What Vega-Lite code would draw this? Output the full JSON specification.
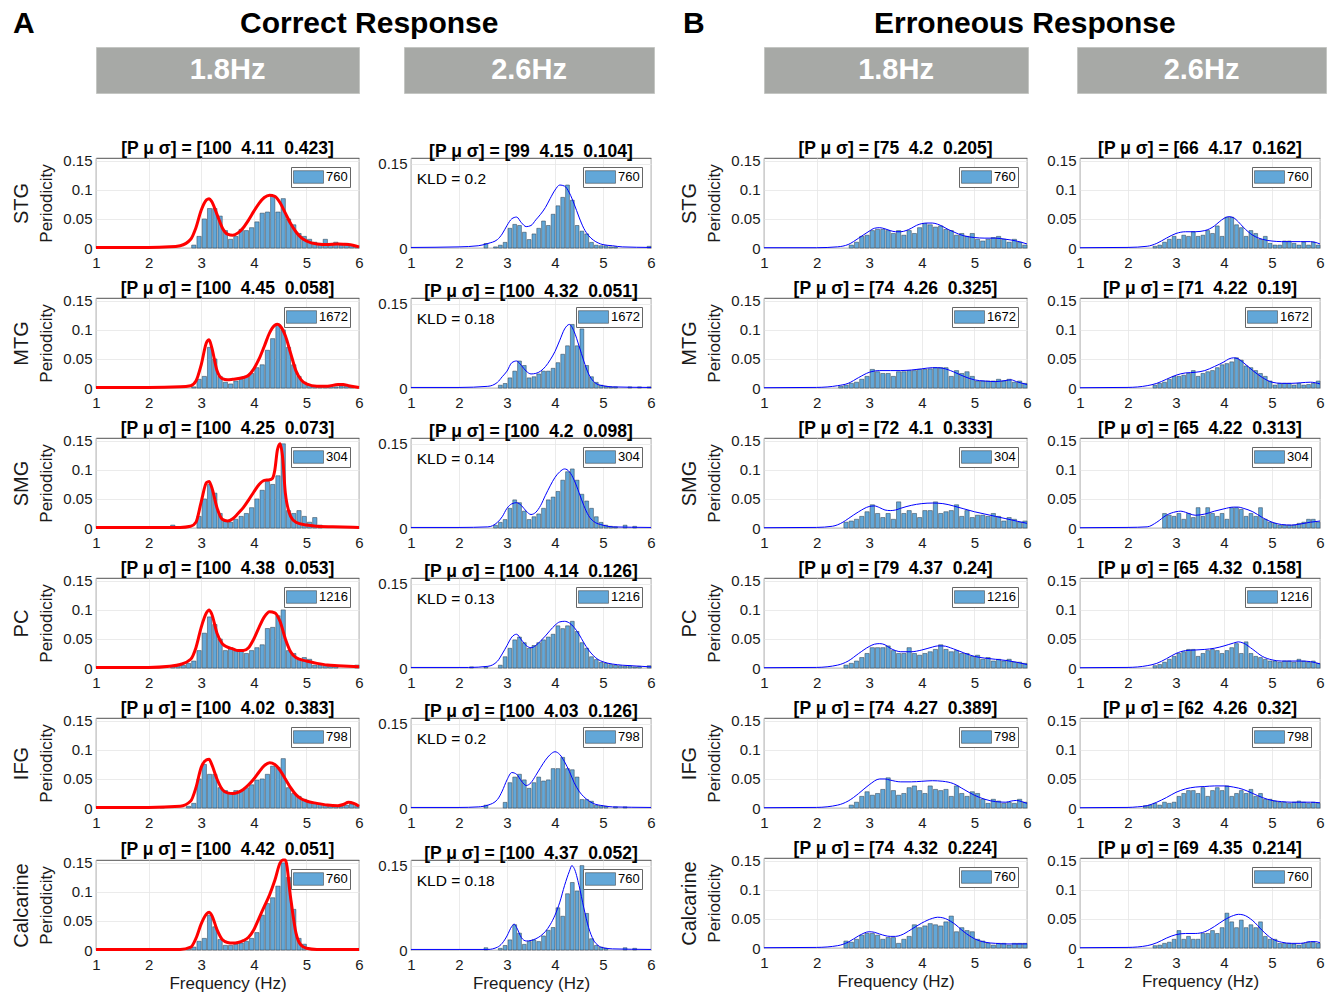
{
"$schema":"https://vega.github.io/schema/vega-lite/v6.json",
"padding":{"left":10,"top":8,"right":5,"bottom":2},
"background":"white",
"datasets":{
"bars":[
{"p":"a1","x":2.8,"y":0.005},{"p":"a1","x":2.9,"y":0.02},{"p":"a1","x":3,"y":0.05},{"p":"a1","x":3.1,"y":0.068},{"p":"a1","x":3.2,"y":0.068},{"p":"a1","x":3.3,"y":0.055},{"p":"a1","x":3.4,"y":0.03},{"p":"a1","x":3.5,"y":0.015},{"p":"a1","x":3.6,"y":0.02},{"p":"a1","x":3.7,"y":0.032},{"p":"a1","x":3.8,"y":0.03},{"p":"a1","x":3.9,"y":0.035},{"p":"a1","x":4,"y":0.045},{"p":"a1","x":4.1,"y":0.06},{"p":"a1","x":4.2,"y":0.062},{"p":"a1","x":4.3,"y":0.09},{"p":"a1","x":4.4,"y":0.062},{"p":"a1","x":4.5,"y":0.085},{"p":"a1","x":4.6,"y":0.05},{"p":"a1","x":4.7,"y":0.04},{"p":"a1","x":4.8,"y":0.025},{"p":"a1","x":4.9,"y":0.02},{"p":"a1","x":5,"y":0.015},{"p":"a1","x":5.1,"y":0.01},{"p":"a1","x":5.2,"y":0.008},{"p":"a1","x":5.3,"y":0.015},{"p":"a1","x":5.4,"y":0.008},{"p":"a1","x":5.5,"y":0.01},{"p":"a1","x":5.6,"y":0.005},{"p":"a1","x":5.7,"y":0.008},{"p":"a1","x":5.8,"y":0.005},{"p":"a1","x":5.9,"y":0.003},
{"p":"a2","x":2.8,"y":0.002},{"p":"a2","x":2.9,"y":0.015},{"p":"a2","x":3,"y":0.02},{"p":"a2","x":3.1,"y":0.07},{"p":"a2","x":3.2,"y":0.05},{"p":"a2","x":3.3,"y":0.02},{"p":"a2","x":3.4,"y":0.01},{"p":"a2","x":3.5,"y":0.007},{"p":"a2","x":3.6,"y":0.012},{"p":"a2","x":3.7,"y":0.015},{"p":"a2","x":3.8,"y":0.02},{"p":"a2","x":3.9,"y":0.025},{"p":"a2","x":4,"y":0.035},{"p":"a2","x":4.1,"y":0.04},{"p":"a2","x":4.2,"y":0.065},{"p":"a2","x":4.3,"y":0.085},{"p":"a2","x":4.4,"y":0.11},{"p":"a2","x":4.5,"y":0.1},{"p":"a2","x":4.6,"y":0.07},{"p":"a2","x":4.7,"y":0.04},{"p":"a2","x":4.8,"y":0.02},{"p":"a2","x":4.9,"y":0.01},{"p":"a2","x":5,"y":0.005},{"p":"a2","x":5.1,"y":0.004},{"p":"a2","x":5.2,"y":0.003},{"p":"a2","x":5.3,"y":0.003},{"p":"a2","x":5.4,"y":0.004},{"p":"a2","x":5.5,"y":0.002},{"p":"a2","x":5.6,"y":0.003},{"p":"a2","x":5.7,"y":0.003},{"p":"a2","x":5.8,"y":0.002},
{"p":"a3","x":2.4,"y":0.005},{"p":"a3","x":2.9,"y":0.02},{"p":"a3","x":3,"y":0.05},{"p":"a3","x":3.1,"y":0.075},{"p":"a3","x":3.2,"y":0.06},{"p":"a3","x":3.3,"y":0.025},{"p":"a3","x":3.4,"y":0.012},{"p":"a3","x":3.5,"y":0.01},{"p":"a3","x":3.6,"y":0.015},{"p":"a3","x":3.7,"y":0.02},{"p":"a3","x":3.8,"y":0.025},{"p":"a3","x":3.9,"y":0.035},{"p":"a3","x":4,"y":0.05},{"p":"a3","x":4.1,"y":0.065},{"p":"a3","x":4.2,"y":0.08},{"p":"a3","x":4.3,"y":0.075},{"p":"a3","x":4.4,"y":0.09},{"p":"a3","x":4.5,"y":0.145},{"p":"a3","x":4.6,"y":0.03},{"p":"a3","x":4.7,"y":0.025},{"p":"a3","x":4.8,"y":0.03},{"p":"a3","x":4.9,"y":0.02},{"p":"a3","x":5,"y":0.01},{"p":"a3","x":5.1,"y":0.018},{"p":"a3","x":5.2,"y":0.005},
{"p":"a4","x":2.4,"y":0.003},{"p":"a4","x":2.5,"y":0.004},{"p":"a4","x":2.6,"y":0.005},{"p":"a4","x":2.7,"y":0.008},{"p":"a4","x":2.8,"y":0.012},{"p":"a4","x":2.9,"y":0.03},{"p":"a4","x":3,"y":0.06},{"p":"a4","x":3.1,"y":0.088},{"p":"a4","x":3.2,"y":0.075},{"p":"a4","x":3.3,"y":0.05},{"p":"a4","x":3.4,"y":0.03},{"p":"a4","x":3.5,"y":0.035},{"p":"a4","x":3.6,"y":0.03},{"p":"a4","x":3.7,"y":0.03},{"p":"a4","x":3.8,"y":0.025},{"p":"a4","x":3.9,"y":0.03},{"p":"a4","x":4,"y":0.035},{"p":"a4","x":4.1,"y":0.04},{"p":"a4","x":4.2,"y":0.068},{"p":"a4","x":4.3,"y":0.07},{"p":"a4","x":4.4,"y":0.09},{"p":"a4","x":4.5,"y":0.1},{"p":"a4","x":4.6,"y":0.03},{"p":"a4","x":4.7,"y":0.025},{"p":"a4","x":4.8,"y":0.015},{"p":"a4","x":4.9,"y":0.018},{"p":"a4","x":5,"y":0.015},{"p":"a4","x":5.1,"y":0.005},{"p":"a4","x":5.2,"y":0.005},{"p":"a4","x":5.3,"y":0.004},{"p":"a4","x":5.4,"y":0.003},{"p":"a4","x":5.5,"y":0.004},{"p":"a4","x":5.9,"y":0.005},
{"p":"a5","x":2.2,"y":0.002},{"p":"a5","x":2.7,"y":0.003},{"p":"a5","x":2.8,"y":0.008},{"p":"a5","x":2.9,"y":0.05},{"p":"a5","x":3,"y":0.075},{"p":"a5","x":3.1,"y":0.058},{"p":"a5","x":3.2,"y":0.058},{"p":"a5","x":3.3,"y":0.035},{"p":"a5","x":3.4,"y":0.03},{"p":"a5","x":3.5,"y":0.025},{"p":"a5","x":3.6,"y":0.03},{"p":"a5","x":3.7,"y":0.03},{"p":"a5","x":3.8,"y":0.035},{"p":"a5","x":3.9,"y":0.04},{"p":"a5","x":4,"y":0.048},{"p":"a5","x":4.1,"y":0.05},{"p":"a5","x":4.2,"y":0.058},{"p":"a5","x":4.3,"y":0.072},{"p":"a5","x":4.4,"y":0.07},{"p":"a5","x":4.5,"y":0.085},{"p":"a5","x":4.6,"y":0.035},{"p":"a5","x":4.7,"y":0.025},{"p":"a5","x":4.8,"y":0.02},{"p":"a5","x":4.9,"y":0.015},{"p":"a5","x":5,"y":0.01},{"p":"a5","x":5.1,"y":0.008},{"p":"a5","x":5.2,"y":0.007},{"p":"a5","x":5.3,"y":0.005},{"p":"a5","x":5.4,"y":0.005},{"p":"a5","x":5.5,"y":0.004},{"p":"a5","x":5.6,"y":0.003},{"p":"a5","x":5.7,"y":0.005},{"p":"a5","x":5.8,"y":0.007},{"p":"a5","x":5.9,"y":0.004},
{"p":"a6","x":2.7,"y":0.003},{"p":"a6","x":2.8,"y":0.005},{"p":"a6","x":2.9,"y":0.015},{"p":"a6","x":3,"y":0.02},{"p":"a6","x":3.1,"y":0.06},{"p":"a6","x":3.2,"y":0.04},{"p":"a6","x":3.3,"y":0.018},{"p":"a6","x":3.4,"y":0.008},{"p":"a6","x":3.5,"y":0.008},{"p":"a6","x":3.6,"y":0.01},{"p":"a6","x":3.7,"y":0.012},{"p":"a6","x":3.8,"y":0.015},{"p":"a6","x":3.9,"y":0.02},{"p":"a6","x":4,"y":0.03},{"p":"a6","x":4.1,"y":0.06},{"p":"a6","x":4.2,"y":0.08},{"p":"a6","x":4.3,"y":0.09},{"p":"a6","x":4.4,"y":0.11},{"p":"a6","x":4.5,"y":0.15},{"p":"a6","x":4.6,"y":0.125},{"p":"a6","x":4.7,"y":0.07},{"p":"a6","x":4.8,"y":0.02},{"p":"a6","x":4.9,"y":0.01},
{"p":"b1","x":2.5,"y":0.008},{"p":"b1","x":2.7,"y":0.002},{"p":"b1","x":2.8,"y":0.005},{"p":"b1","x":2.9,"y":0.01},{"p":"b1","x":3,"y":0.035},{"p":"b1","x":3.1,"y":0.042},{"p":"b1","x":3.2,"y":0.04},{"p":"b1","x":3.3,"y":0.028},{"p":"b1","x":3.4,"y":0.015},{"p":"b1","x":3.5,"y":0.025},{"p":"b1","x":3.6,"y":0.035},{"p":"b1","x":3.7,"y":0.048},{"p":"b1","x":3.8,"y":0.04},{"p":"b1","x":3.9,"y":0.06},{"p":"b1","x":4,"y":0.075},{"p":"b1","x":4.1,"y":0.09},{"p":"b1","x":4.2,"y":0.112},{"p":"b1","x":4.3,"y":0.085},{"p":"b1","x":4.4,"y":0.04},{"p":"b1","x":4.5,"y":0.03},{"p":"b1","x":4.6,"y":0.025},{"p":"b1","x":4.7,"y":0.01},{"p":"b1","x":4.8,"y":0.005},{"p":"b1","x":4.9,"y":0.004},{"p":"b1","x":5,"y":0.004},{"p":"b1","x":5.1,"y":0.002},{"p":"b1","x":5.2,"y":0.002},{"p":"b1","x":5.9,"y":0.003},
{"p":"b2","x":2.8,"y":0.005},{"p":"b2","x":2.9,"y":0.008},{"p":"b2","x":3,"y":0.018},{"p":"b2","x":3.1,"y":0.03},{"p":"b2","x":3.2,"y":0.048},{"p":"b2","x":3.3,"y":0.04},{"p":"b2","x":3.4,"y":0.018},{"p":"b2","x":3.5,"y":0.02},{"p":"b2","x":3.6,"y":0.025},{"p":"b2","x":3.7,"y":0.03},{"p":"b2","x":3.8,"y":0.03},{"p":"b2","x":3.9,"y":0.035},{"p":"b2","x":4,"y":0.045},{"p":"b2","x":4.1,"y":0.06},{"p":"b2","x":4.2,"y":0.075},{"p":"b2","x":4.3,"y":0.113},{"p":"b2","x":4.4,"y":0.075},{"p":"b2","x":4.5,"y":0.105},{"p":"b2","x":4.6,"y":0.04},{"p":"b2","x":4.7,"y":0.02},{"p":"b2","x":4.8,"y":0.01},{"p":"b2","x":4.9,"y":0.005},{"p":"b2","x":5,"y":0.003},{"p":"b2","x":5.1,"y":0.002},{"p":"b2","x":5.2,"y":0.002},{"p":"b2","x":5.5,"y":0.002},{"p":"b2","x":5.7,"y":0.002},{"p":"b2","x":5.9,"y":0.002},
{"p":"b3","x":2.7,"y":0.005},{"p":"b3","x":2.8,"y":0.01},{"p":"b3","x":2.9,"y":0.015},{"p":"b3","x":3,"y":0.035},{"p":"b3","x":3.1,"y":0.05},{"p":"b3","x":3.2,"y":0.045},{"p":"b3","x":3.3,"y":0.03},{"p":"b3","x":3.4,"y":0.015},{"p":"b3","x":3.5,"y":0.02},{"p":"b3","x":3.6,"y":0.025},{"p":"b3","x":3.7,"y":0.035},{"p":"b3","x":3.8,"y":0.05},{"p":"b3","x":3.9,"y":0.055},{"p":"b3","x":4,"y":0.065},{"p":"b3","x":4.1,"y":0.085},{"p":"b3","x":4.2,"y":0.1},{"p":"b3","x":4.3,"y":0.105},{"p":"b3","x":4.4,"y":0.085},{"p":"b3","x":4.5,"y":0.06},{"p":"b3","x":4.6,"y":0.048},{"p":"b3","x":4.7,"y":0.035},{"p":"b3","x":4.8,"y":0.02},{"p":"b3","x":4.9,"y":0.01},{"p":"b3","x":5,"y":0.005},{"p":"b3","x":5.1,"y":0.003},{"p":"b3","x":5.2,"y":0.002},{"p":"b3","x":5.4,"y":0.005},{"p":"b3","x":5.6,"y":0.003},
{"p":"b4","x":2.2,"y":0.002},{"p":"b4","x":2.5,"y":0.002},{"p":"b4","x":2.8,"y":0.005},{"p":"b4","x":2.9,"y":0.02},{"p":"b4","x":3,"y":0.035},{"p":"b4","x":3.1,"y":0.05},{"p":"b4","x":3.2,"y":0.055},{"p":"b4","x":3.3,"y":0.045},{"p":"b4","x":3.4,"y":0.035},{"p":"b4","x":3.5,"y":0.04},{"p":"b4","x":3.6,"y":0.045},{"p":"b4","x":3.7,"y":0.05},{"p":"b4","x":3.8,"y":0.055},{"p":"b4","x":3.9,"y":0.06},{"p":"b4","x":4,"y":0.075},{"p":"b4","x":4.1,"y":0.07},{"p":"b4","x":4.2,"y":0.075},{"p":"b4","x":4.3,"y":0.083},{"p":"b4","x":4.4,"y":0.065},{"p":"b4","x":4.5,"y":0.045},{"p":"b4","x":4.6,"y":0.035},{"p":"b4","x":4.7,"y":0.02},{"p":"b4","x":4.8,"y":0.015},{"p":"b4","x":4.9,"y":0.01},{"p":"b4","x":5,"y":0.008},{"p":"b4","x":5.1,"y":0.006},{"p":"b4","x":5.2,"y":0.005},{"p":"b4","x":5.3,"y":0.004},{"p":"b4","x":5.4,"y":0.003},{"p":"b4","x":5.5,"y":0.004},{"p":"b4","x":5.6,"y":0.002},{"p":"b4","x":5.7,"y":0.003},{"p":"b4","x":5.9,"y":0.004},
{"p":"b5","x":2.5,"y":0.005},{"p":"b5","x":2.9,"y":0.01},{"p":"b5","x":3,"y":0.045},{"p":"b5","x":3.1,"y":0.055},{"p":"b5","x":3.2,"y":0.06},{"p":"b5","x":3.3,"y":0.05},{"p":"b5","x":3.4,"y":0.035},{"p":"b5","x":3.5,"y":0.045},{"p":"b5","x":3.6,"y":0.055},{"p":"b5","x":3.7,"y":0.048},{"p":"b5","x":3.8,"y":0.05},{"p":"b5","x":3.9,"y":0.07},{"p":"b5","x":4,"y":0.07},{"p":"b5","x":4.1,"y":0.09},{"p":"b5","x":4.2,"y":0.07},{"p":"b5","x":4.3,"y":0.068},{"p":"b5","x":4.4,"y":0.055},{"p":"b5","x":4.5,"y":0.015},{"p":"b5","x":4.6,"y":0.015},{"p":"b5","x":4.7,"y":0.012},{"p":"b5","x":4.8,"y":0.005},{"p":"b5","x":4.9,"y":0.004},{"p":"b5","x":5,"y":0.003},{"p":"b5","x":5.2,"y":0.002},{"p":"b5","x":5.4,"y":0.002},
{"p":"b6","x":2.5,"y":0.004},{"p":"b6","x":2.8,"y":0.003},{"p":"b6","x":2.9,"y":0.008},{"p":"b6","x":3,"y":0.018},{"p":"b6","x":3.1,"y":0.045},{"p":"b6","x":3.2,"y":0.03},{"p":"b6","x":3.3,"y":0.01},{"p":"b6","x":3.4,"y":0.015},{"p":"b6","x":3.5,"y":0.018},{"p":"b6","x":3.6,"y":0.015},{"p":"b6","x":3.7,"y":0.025},{"p":"b6","x":3.8,"y":0.035},{"p":"b6","x":3.9,"y":0.04},{"p":"b6","x":4,"y":0.075},{"p":"b6","x":4.1,"y":0.06},{"p":"b6","x":4.2,"y":0.1},{"p":"b6","x":4.3,"y":0.12},{"p":"b6","x":4.4,"y":0.105},{"p":"b6","x":4.5,"y":0.15},{"p":"b6","x":4.6,"y":0.065},{"p":"b6","x":4.7,"y":0.02},{"p":"b6","x":4.8,"y":0.008},{"p":"b6","x":4.9,"y":0.005},{"p":"b6","x":5,"y":0.003},{"p":"b6","x":5.4,"y":0.004},{"p":"b6","x":5.6,"y":0.003},
{"p":"c1","x":2.6,"y":0.005},{"p":"c1","x":2.7,"y":0.01},{"p":"c1","x":2.8,"y":0.02},{"p":"c1","x":2.9,"y":0.022},{"p":"c1","x":3,"y":0.03},{"p":"c1","x":3.1,"y":0.032},{"p":"c1","x":3.2,"y":0.032},{"p":"c1","x":3.3,"y":0.03},{"p":"c1","x":3.4,"y":0.025},{"p":"c1","x":3.5,"y":0.03},{"p":"c1","x":3.6,"y":0.022},{"p":"c1","x":3.7,"y":0.03},{"p":"c1","x":3.8,"y":0.025},{"p":"c1","x":3.9,"y":0.035},{"p":"c1","x":4,"y":0.042},{"p":"c1","x":4.1,"y":0.04},{"p":"c1","x":4.2,"y":0.036},{"p":"c1","x":4.3,"y":0.038},{"p":"c1","x":4.4,"y":0.032},{"p":"c1","x":4.5,"y":0.03},{"p":"c1","x":4.6,"y":0.022},{"p":"c1","x":4.7,"y":0.025},{"p":"c1","x":4.8,"y":0.02},{"p":"c1","x":4.9,"y":0.025},{"p":"c1","x":5,"y":0.015},{"p":"c1","x":5.1,"y":0.012},{"p":"c1","x":5.2,"y":0.015},{"p":"c1","x":5.3,"y":0.018},{"p":"c1","x":5.4,"y":0.02},{"p":"c1","x":5.5,"y":0.015},{"p":"c1","x":5.6,"y":0.01},{"p":"c1","x":5.7,"y":0.015},{"p":"c1","x":5.8,"y":0.01},{"p":"c1","x":5.9,"y":0.005},
{"p":"c2","x":2.4,"y":0.003},{"p":"c2","x":2.5,"y":0.005},{"p":"c2","x":2.6,"y":0.008},{"p":"c2","x":2.7,"y":0.01},{"p":"c2","x":2.8,"y":0.015},{"p":"c2","x":2.9,"y":0.02},{"p":"c2","x":3,"y":0.032},{"p":"c2","x":3.1,"y":0.028},{"p":"c2","x":3.2,"y":0.025},{"p":"c2","x":3.3,"y":0.025},{"p":"c2","x":3.4,"y":0.02},{"p":"c2","x":3.5,"y":0.028},{"p":"c2","x":3.6,"y":0.028},{"p":"c2","x":3.7,"y":0.03},{"p":"c2","x":3.8,"y":0.03},{"p":"c2","x":3.9,"y":0.032},{"p":"c2","x":4,"y":0.032},{"p":"c2","x":4.1,"y":0.033},{"p":"c2","x":4.2,"y":0.035},{"p":"c2","x":4.3,"y":0.035},{"p":"c2","x":4.4,"y":0.035},{"p":"c2","x":4.5,"y":0.02},{"p":"c2","x":4.6,"y":0.03},{"p":"c2","x":4.7,"y":0.025},{"p":"c2","x":4.8,"y":0.028},{"p":"c2","x":4.9,"y":0.02},{"p":"c2","x":5,"y":0.012},{"p":"c2","x":5.1,"y":0.012},{"p":"c2","x":5.2,"y":0.012},{"p":"c2","x":5.3,"y":0.012},{"p":"c2","x":5.4,"y":0.015},{"p":"c2","x":5.5,"y":0.012},{"p":"c2","x":5.6,"y":0.015},{"p":"c2","x":5.7,"y":0.01},{"p":"c2","x":5.8,"y":0.012},{"p":"c2","x":5.9,"y":0.008},
{"p":"c3","x":2.5,"y":0.01},{"p":"c3","x":2.6,"y":0.012},{"p":"c3","x":2.7,"y":0.015},{"p":"c3","x":2.8,"y":0.02},{"p":"c3","x":2.9,"y":0.028},{"p":"c3","x":3,"y":0.04},{"p":"c3","x":3.1,"y":0.025},{"p":"c3","x":3.2,"y":0.018},{"p":"c3","x":3.3,"y":0.025},{"p":"c3","x":3.4,"y":0.015},{"p":"c3","x":3.5,"y":0.045},{"p":"c3","x":3.6,"y":0.025},{"p":"c3","x":3.7,"y":0.03},{"p":"c3","x":3.8,"y":0.025},{"p":"c3","x":3.9,"y":0.018},{"p":"c3","x":4,"y":0.03},{"p":"c3","x":4.1,"y":0.03},{"p":"c3","x":4.2,"y":0.045},{"p":"c3","x":4.3,"y":0.025},{"p":"c3","x":4.4,"y":0.028},{"p":"c3","x":4.5,"y":0.03},{"p":"c3","x":4.6,"y":0.04},{"p":"c3","x":4.7,"y":0.02},{"p":"c3","x":4.8,"y":0.03},{"p":"c3","x":4.9,"y":0.018},{"p":"c3","x":5,"y":0.022},{"p":"c3","x":5.1,"y":0.022},{"p":"c3","x":5.2,"y":0.02},{"p":"c3","x":5.3,"y":0.025},{"p":"c3","x":5.4,"y":0.02},{"p":"c3","x":5.5,"y":0.012},{"p":"c3","x":5.6,"y":0.018},{"p":"c3","x":5.7,"y":0.015},{"p":"c3","x":5.8,"y":0.01},{"p":"c3","x":5.9,"y":0.012},
{"p":"c4","x":2.5,"y":0.005},{"p":"c4","x":2.6,"y":0.008},{"p":"c4","x":2.7,"y":0.012},{"p":"c4","x":2.8,"y":0.018},{"p":"c4","x":2.9,"y":0.025},{"p":"c4","x":3,"y":0.035},{"p":"c4","x":3.1,"y":0.035},{"p":"c4","x":3.2,"y":0.035},{"p":"c4","x":3.3,"y":0.038},{"p":"c4","x":3.4,"y":0.03},{"p":"c4","x":3.5,"y":0.025},{"p":"c4","x":3.6,"y":0.025},{"p":"c4","x":3.7,"y":0.035},{"p":"c4","x":3.8,"y":0.025},{"p":"c4","x":3.9,"y":0.022},{"p":"c4","x":4,"y":0.025},{"p":"c4","x":4.1,"y":0.028},{"p":"c4","x":4.2,"y":0.032},{"p":"c4","x":4.3,"y":0.04},{"p":"c4","x":4.4,"y":0.032},{"p":"c4","x":4.5,"y":0.028},{"p":"c4","x":4.6,"y":0.03},{"p":"c4","x":4.7,"y":0.025},{"p":"c4","x":4.8,"y":0.025},{"p":"c4","x":4.9,"y":0.02},{"p":"c4","x":5,"y":0.022},{"p":"c4","x":5.1,"y":0.015},{"p":"c4","x":5.2,"y":0.018},{"p":"c4","x":5.3,"y":0.012},{"p":"c4","x":5.4,"y":0.015},{"p":"c4","x":5.5,"y":0.012},{"p":"c4","x":5.6,"y":0.015},{"p":"c4","x":5.7,"y":0.01},{"p":"c4","x":5.8,"y":0.01},{"p":"c4","x":5.9,"y":0.008},
{"p":"c5","x":2.6,"y":0.005},{"p":"c5","x":2.7,"y":0.01},{"p":"c5","x":2.8,"y":0.02},{"p":"c5","x":2.9,"y":0.028},{"p":"c5","x":3,"y":0.022},{"p":"c5","x":3.1,"y":0.025},{"p":"c5","x":3.2,"y":0.032},{"p":"c5","x":3.3,"y":0.052},{"p":"c5","x":3.4,"y":0.03},{"p":"c5","x":3.5,"y":0.022},{"p":"c5","x":3.6,"y":0.025},{"p":"c5","x":3.7,"y":0.035},{"p":"c5","x":3.8,"y":0.038},{"p":"c5","x":3.9,"y":0.03},{"p":"c5","x":4,"y":0.025},{"p":"c5","x":4.1,"y":0.038},{"p":"c5","x":4.2,"y":0.032},{"p":"c5","x":4.3,"y":0.03},{"p":"c5","x":4.4,"y":0.032},{"p":"c5","x":4.5,"y":0.02},{"p":"c5","x":4.6,"y":0.038},{"p":"c5","x":4.7,"y":0.025},{"p":"c5","x":4.8,"y":0.02},{"p":"c5","x":4.9,"y":0.028},{"p":"c5","x":5,"y":0.025},{"p":"c5","x":5.1,"y":0.015},{"p":"c5","x":5.2,"y":0.008},{"p":"c5","x":5.3,"y":0.015},{"p":"c5","x":5.4,"y":0.012},{"p":"c5","x":5.5,"y":0.008},{"p":"c5","x":5.6,"y":0.01},{"p":"c5","x":5.7,"y":0.008},{"p":"c5","x":5.8,"y":0.015},{"p":"c5","x":5.9,"y":0.01},
{"p":"c6","x":2.5,"y":0.012},{"p":"c6","x":2.6,"y":0.01},{"p":"c6","x":2.7,"y":0.015},{"p":"c6","x":2.8,"y":0.022},{"p":"c6","x":2.9,"y":0.025},{"p":"c6","x":3,"y":0.025},{"p":"c6","x":3.1,"y":0.022},{"p":"c6","x":3.2,"y":0.015},{"p":"c6","x":3.3,"y":0.018},{"p":"c6","x":3.4,"y":0.018},{"p":"c6","x":3.5,"y":0.008},{"p":"c6","x":3.6,"y":0.015},{"p":"c6","x":3.7,"y":0.02},{"p":"c6","x":3.8,"y":0.04},{"p":"c6","x":3.9,"y":0.035},{"p":"c6","x":4,"y":0.038},{"p":"c6","x":4.1,"y":0.042},{"p":"c6","x":4.2,"y":0.04},{"p":"c6","x":4.3,"y":0.038},{"p":"c6","x":4.4,"y":0.045},{"p":"c6","x":4.5,"y":0.055},{"p":"c6","x":4.6,"y":0.028},{"p":"c6","x":4.7,"y":0.035},{"p":"c6","x":4.8,"y":0.03},{"p":"c6","x":4.9,"y":0.028},{"p":"c6","x":5,"y":0.015},{"p":"c6","x":5.1,"y":0.012},{"p":"c6","x":5.2,"y":0.008},{"p":"c6","x":5.3,"y":0.005},{"p":"c6","x":5.4,"y":0.008},{"p":"c6","x":5.5,"y":0.008},{"p":"c6","x":5.6,"y":0.005},{"p":"c6","x":5.7,"y":0.008},{"p":"c6","x":5.8,"y":0.008},{"p":"c6","x":5.9,"y":0.008},
{"p":"d1","x":2.5,"y":0.003},{"p":"d1","x":2.6,"y":0.005},{"p":"d1","x":2.7,"y":0.01},{"p":"d1","x":2.8,"y":0.015},{"p":"d1","x":2.9,"y":0.02},{"p":"d1","x":3,"y":0.015},{"p":"d1","x":3.1,"y":0.022},{"p":"d1","x":3.2,"y":0.02},{"p":"d1","x":3.3,"y":0.028},{"p":"d1","x":3.4,"y":0.02},{"p":"d1","x":3.5,"y":0.022},{"p":"d1","x":3.6,"y":0.03},{"p":"d1","x":3.7,"y":0.025},{"p":"d1","x":3.8,"y":0.038},{"p":"d1","x":3.9,"y":0.02},{"p":"d1","x":4,"y":0.053},{"p":"d1","x":4.1,"y":0.053},{"p":"d1","x":4.2,"y":0.04},{"p":"d1","x":4.3,"y":0.035},{"p":"d1","x":4.4,"y":0.02},{"p":"d1","x":4.5,"y":0.03},{"p":"d1","x":4.6,"y":0.025},{"p":"d1","x":4.7,"y":0.015},{"p":"d1","x":4.8,"y":0.02},{"p":"d1","x":4.9,"y":0.008},{"p":"d1","x":5,"y":0.005},{"p":"d1","x":5.1,"y":0.005},{"p":"d1","x":5.2,"y":0.012},{"p":"d1","x":5.3,"y":0.012},{"p":"d1","x":5.4,"y":0.008},{"p":"d1","x":5.5,"y":0.005},{"p":"d1","x":5.6,"y":0.01},{"p":"d1","x":5.7,"y":0.005},{"p":"d1","x":5.8,"y":0.01},{"p":"d1","x":5.9,"y":0.005},
{"p":"d2","x":2.5,"y":0.005},{"p":"d2","x":2.6,"y":0.008},{"p":"d2","x":2.7,"y":0.01},{"p":"d2","x":2.8,"y":0.015},{"p":"d2","x":2.9,"y":0.02},{"p":"d2","x":3,"y":0.02},{"p":"d2","x":3.1,"y":0.022},{"p":"d2","x":3.2,"y":0.025},{"p":"d2","x":3.3,"y":0.03},{"p":"d2","x":3.4,"y":0.02},{"p":"d2","x":3.5,"y":0.025},{"p":"d2","x":3.6,"y":0.028},{"p":"d2","x":3.7,"y":0.03},{"p":"d2","x":3.8,"y":0.035},{"p":"d2","x":3.9,"y":0.04},{"p":"d2","x":4,"y":0.042},{"p":"d2","x":4.1,"y":0.045},{"p":"d2","x":4.2,"y":0.052},{"p":"d2","x":4.3,"y":0.048},{"p":"d2","x":4.4,"y":0.038},{"p":"d2","x":4.5,"y":0.035},{"p":"d2","x":4.6,"y":0.03},{"p":"d2","x":4.7,"y":0.025},{"p":"d2","x":4.8,"y":0.02},{"p":"d2","x":4.9,"y":0.012},{"p":"d2","x":5,"y":0.005},{"p":"d2","x":5.1,"y":0.008},{"p":"d2","x":5.2,"y":0.008},{"p":"d2","x":5.3,"y":0.008},{"p":"d2","x":5.4,"y":0.005},{"p":"d2","x":5.5,"y":0.008},{"p":"d2","x":5.6,"y":0.005},{"p":"d2","x":5.7,"y":0.006},{"p":"d2","x":5.8,"y":0.008},{"p":"d2","x":5.9,"y":0.012},
{"p":"d3","x":2.7,"y":0.025},{"p":"d3","x":2.8,"y":0.022},{"p":"d3","x":2.9,"y":0.02},{"p":"d3","x":3,"y":0.025},{"p":"d3","x":3.1,"y":0.015},{"p":"d3","x":3.2,"y":0.025},{"p":"d3","x":3.3,"y":0.018},{"p":"d3","x":3.4,"y":0.035},{"p":"d3","x":3.5,"y":0.02},{"p":"d3","x":3.6,"y":0.035},{"p":"d3","x":3.7,"y":0.025},{"p":"d3","x":3.8,"y":0.02},{"p":"d3","x":3.9,"y":0.025},{"p":"d3","x":4,"y":0.015},{"p":"d3","x":4.1,"y":0.035},{"p":"d3","x":4.2,"y":0.035},{"p":"d3","x":4.3,"y":0.032},{"p":"d3","x":4.4,"y":0.02},{"p":"d3","x":4.5,"y":0.025},{"p":"d3","x":4.6,"y":0.02},{"p":"d3","x":4.7,"y":0.035},{"p":"d3","x":4.8,"y":0.015},{"p":"d3","x":4.9,"y":0.01},{"p":"d3","x":5,"y":0.008},{"p":"d3","x":5.1,"y":0.005},{"p":"d3","x":5.2,"y":0.005},{"p":"d3","x":5.3,"y":0.005},{"p":"d3","x":5.4,"y":0.005},{"p":"d3","x":5.5,"y":0.008},{"p":"d3","x":5.6,"y":0.01},{"p":"d3","x":5.7,"y":0.015},{"p":"d3","x":5.8,"y":0.015},{"p":"d3","x":5.9,"y":0.01},
{"p":"d4","x":2.5,"y":0.004},{"p":"d4","x":2.6,"y":0.006},{"p":"d4","x":2.7,"y":0.01},{"p":"d4","x":2.8,"y":0.015},{"p":"d4","x":2.9,"y":0.02},{"p":"d4","x":3,"y":0.025},{"p":"d4","x":3.1,"y":0.028},{"p":"d4","x":3.2,"y":0.032},{"p":"d4","x":3.3,"y":0.032},{"p":"d4","x":3.4,"y":0.02},{"p":"d4","x":3.5,"y":0.025},{"p":"d4","x":3.6,"y":0.03},{"p":"d4","x":3.7,"y":0.032},{"p":"d4","x":3.8,"y":0.03},{"p":"d4","x":3.9,"y":0.025},{"p":"d4","x":4,"y":0.03},{"p":"d4","x":4.1,"y":0.035},{"p":"d4","x":4.2,"y":0.042},{"p":"d4","x":4.3,"y":0.025},{"p":"d4","x":4.4,"y":0.045},{"p":"d4","x":4.5,"y":0.025},{"p":"d4","x":4.6,"y":0.02},{"p":"d4","x":4.7,"y":0.018},{"p":"d4","x":4.8,"y":0.015},{"p":"d4","x":4.9,"y":0.012},{"p":"d4","x":5,"y":0.012},{"p":"d4","x":5.1,"y":0.01},{"p":"d4","x":5.2,"y":0.012},{"p":"d4","x":5.3,"y":0.012},{"p":"d4","x":5.4,"y":0.01},{"p":"d4","x":5.5,"y":0.015},{"p":"d4","x":5.6,"y":0.012},{"p":"d4","x":5.7,"y":0.01},{"p":"d4","x":5.8,"y":0.012},{"p":"d4","x":5.9,"y":0.008},
{"p":"d5","x":2.3,"y":0.004},{"p":"d5","x":2.4,"y":0.005},{"p":"d5","x":2.5,"y":0.008},{"p":"d5","x":2.6,"y":0.005},{"p":"d5","x":2.7,"y":0.01},{"p":"d5","x":2.8,"y":0.008},{"p":"d5","x":2.9,"y":0.01},{"p":"d5","x":3,"y":0.02},{"p":"d5","x":3.1,"y":0.025},{"p":"d5","x":3.2,"y":0.03},{"p":"d5","x":3.3,"y":0.03},{"p":"d5","x":3.4,"y":0.025},{"p":"d5","x":3.5,"y":0.035},{"p":"d5","x":3.6,"y":0.02},{"p":"d5","x":3.7,"y":0.03},{"p":"d5","x":3.8,"y":0.035},{"p":"d5","x":3.9,"y":0.03},{"p":"d5","x":4,"y":0.038},{"p":"d5","x":4.1,"y":0.02},{"p":"d5","x":4.2,"y":0.025},{"p":"d5","x":4.3,"y":0.03},{"p":"d5","x":4.4,"y":0.025},{"p":"d5","x":4.5,"y":0.032},{"p":"d5","x":4.6,"y":0.02},{"p":"d5","x":4.7,"y":0.025},{"p":"d5","x":4.8,"y":0.015},{"p":"d5","x":4.9,"y":0.015},{"p":"d5","x":5,"y":0.012},{"p":"d5","x":5.1,"y":0.01},{"p":"d5","x":5.2,"y":0.01},{"p":"d5","x":5.3,"y":0.008},{"p":"d5","x":5.4,"y":0.01},{"p":"d5","x":5.5,"y":0.012},{"p":"d5","x":5.6,"y":0.01},{"p":"d5","x":5.7,"y":0.008},{"p":"d5","x":5.8,"y":0.01},{"p":"d5","x":5.9,"y":0.008},
{"p":"d6","x":2.5,"y":0.004},{"p":"d6","x":2.6,"y":0.005},{"p":"d6","x":2.7,"y":0.008},{"p":"d6","x":2.8,"y":0.01},{"p":"d6","x":2.9,"y":0.015},{"p":"d6","x":3,"y":0.03},{"p":"d6","x":3.1,"y":0.015},{"p":"d6","x":3.2,"y":0.02},{"p":"d6","x":3.3,"y":0.015},{"p":"d6","x":3.4,"y":0.015},{"p":"d6","x":3.5,"y":0.025},{"p":"d6","x":3.6,"y":0.025},{"p":"d6","x":3.7,"y":0.03},{"p":"d6","x":3.8,"y":0.025},{"p":"d6","x":3.9,"y":0.035},{"p":"d6","x":4,"y":0.06},{"p":"d6","x":4.1,"y":0.045},{"p":"d6","x":4.2,"y":0.035},{"p":"d6","x":4.3,"y":0.048},{"p":"d6","x":4.4,"y":0.035},{"p":"d6","x":4.5,"y":0.04},{"p":"d6","x":4.6,"y":0.035},{"p":"d6","x":4.7,"y":0.045},{"p":"d6","x":4.8,"y":0.02},{"p":"d6","x":4.9,"y":0.015},{"p":"d6","x":5,"y":0.015},{"p":"d6","x":5.1,"y":0.008},{"p":"d6","x":5.2,"y":0.008},{"p":"d6","x":5.3,"y":0.008},{"p":"d6","x":5.4,"y":0.007},{"p":"d6","x":5.5,"y":0.005},{"p":"d6","x":5.6,"y":0.008},{"p":"d6","x":5.7,"y":0.01},{"p":"d6","x":5.8,"y":0.01},{"p":"d6","x":5.9,"y":0.008}
],
"curves":[
{"p":"a1","x":1,"y":0.001},{"p":"a1","x":2,"y":0.001},{"p":"a1","x":2.4,"y":0.002},{"p":"a1","x":2.6,"y":0.004},{"p":"a1","x":2.8,"y":0.015},{"p":"a1","x":2.9,"y":0.035},{"p":"a1","x":3,"y":0.065},{"p":"a1","x":3.1,"y":0.083},{"p":"a1","x":3.15,"y":0.085},{"p":"a1","x":3.2,"y":0.08},{"p":"a1","x":3.3,"y":0.058},{"p":"a1","x":3.4,"y":0.035},{"p":"a1","x":3.5,"y":0.024},{"p":"a1","x":3.6,"y":0.022},{"p":"a1","x":3.7,"y":0.026},{"p":"a1","x":3.8,"y":0.035},{"p":"a1","x":3.9,"y":0.048},{"p":"a1","x":4,"y":0.063},{"p":"a1","x":4.1,"y":0.077},{"p":"a1","x":4.2,"y":0.087},{"p":"a1","x":4.3,"y":0.091},{"p":"a1","x":4.4,"y":0.089},{"p":"a1","x":4.5,"y":0.078},{"p":"a1","x":4.6,"y":0.06},{"p":"a1","x":4.7,"y":0.042},{"p":"a1","x":4.8,"y":0.028},{"p":"a1","x":4.9,"y":0.018},{"p":"a1","x":5,"y":0.012},{"p":"a1","x":5.2,"y":0.007},{"p":"a1","x":5.4,"y":0.006},{"p":"a1","x":5.6,"y":0.007},{"p":"a1","x":5.8,"y":0.006},{"p":"a1","x":6,"y":0.002},
{"p":"a2","x":1,"y":0.001},{"p":"a2","x":2,"y":0.001},{"p":"a2","x":2.6,"y":0.002},{"p":"a2","x":2.8,"y":0.004},{"p":"a2","x":2.9,"y":0.012},{"p":"a2","x":3,"y":0.04},{"p":"a2","x":3.1,"y":0.078},{"p":"a2","x":3.15,"y":0.083},{"p":"a2","x":3.2,"y":0.07},{"p":"a2","x":3.3,"y":0.03},{"p":"a2","x":3.4,"y":0.016},{"p":"a2","x":3.5,"y":0.014},{"p":"a2","x":3.6,"y":0.015},{"p":"a2","x":3.8,"y":0.018},{"p":"a2","x":3.9,"y":0.022},{"p":"a2","x":4,"y":0.033},{"p":"a2","x":4.1,"y":0.05},{"p":"a2","x":4.2,"y":0.072},{"p":"a2","x":4.3,"y":0.095},{"p":"a2","x":4.4,"y":0.108},{"p":"a2","x":4.45,"y":0.11},{"p":"a2","x":4.5,"y":0.107},{"p":"a2","x":4.6,"y":0.09},{"p":"a2","x":4.7,"y":0.06},{"p":"a2","x":4.8,"y":0.03},{"p":"a2","x":4.9,"y":0.014},{"p":"a2","x":5,"y":0.007},{"p":"a2","x":5.2,"y":0.003},{"p":"a2","x":5.4,"y":0.003},{"p":"a2","x":5.6,"y":0.006},{"p":"a2","x":5.7,"y":0.006},{"p":"a2","x":5.8,"y":0.004},{"p":"a2","x":6,"y":0.001},
{"p":"a3","x":1,"y":0.001},{"p":"a3","x":2,"y":0.001},{"p":"a3","x":2.6,"y":0.001},{"p":"a3","x":2.8,"y":0.003},{"p":"a3","x":2.9,"y":0.01},{"p":"a3","x":3,"y":0.045},{"p":"a3","x":3.1,"y":0.078},{"p":"a3","x":3.15,"y":0.08},{"p":"a3","x":3.2,"y":0.07},{"p":"a3","x":3.3,"y":0.035},{"p":"a3","x":3.4,"y":0.015},{"p":"a3","x":3.5,"y":0.012},{"p":"a3","x":3.6,"y":0.016},{"p":"a3","x":3.7,"y":0.025},{"p":"a3","x":3.8,"y":0.035},{"p":"a3","x":3.9,"y":0.048},{"p":"a3","x":4,"y":0.062},{"p":"a3","x":4.1,"y":0.075},{"p":"a3","x":4.2,"y":0.082},{"p":"a3","x":4.3,"y":0.083},{"p":"a3","x":4.35,"y":0.085},{"p":"a3","x":4.4,"y":0.1},{"p":"a3","x":4.45,"y":0.135},{"p":"a3","x":4.5,"y":0.145},{"p":"a3","x":4.55,"y":0.12},{"p":"a3","x":4.6,"y":0.06},{"p":"a3","x":4.7,"y":0.02},{"p":"a3","x":4.8,"y":0.01},{"p":"a3","x":5,"y":0.005},{"p":"a3","x":5.2,"y":0.003},{"p":"a3","x":5.5,"y":0.002},{"p":"a3","x":6,"y":0.001},
{"p":"a4","x":1,"y":0.001},{"p":"a4","x":2,"y":0.001},{"p":"a4","x":2.4,"y":0.003},{"p":"a4","x":2.6,"y":0.006},{"p":"a4","x":2.8,"y":0.015},{"p":"a4","x":2.9,"y":0.035},{"p":"a4","x":3,"y":0.07},{"p":"a4","x":3.1,"y":0.095},{"p":"a4","x":3.15,"y":0.1},{"p":"a4","x":3.2,"y":0.093},{"p":"a4","x":3.3,"y":0.06},{"p":"a4","x":3.4,"y":0.042},{"p":"a4","x":3.5,"y":0.036},{"p":"a4","x":3.6,"y":0.033},{"p":"a4","x":3.7,"y":0.03},{"p":"a4","x":3.8,"y":0.03},{"p":"a4","x":3.9,"y":0.035},{"p":"a4","x":4,"y":0.05},{"p":"a4","x":4.1,"y":0.07},{"p":"a4","x":4.2,"y":0.088},{"p":"a4","x":4.3,"y":0.097},{"p":"a4","x":4.4,"y":0.095},{"p":"a4","x":4.5,"y":0.08},{"p":"a4","x":4.6,"y":0.05},{"p":"a4","x":4.7,"y":0.028},{"p":"a4","x":4.8,"y":0.018},{"p":"a4","x":5,"y":0.012},{"p":"a4","x":5.2,"y":0.008},{"p":"a4","x":5.4,"y":0.005},{"p":"a4","x":5.6,"y":0.004},{"p":"a4","x":5.8,"y":0.003},{"p":"a4","x":6,"y":0.002},
{"p":"a5","x":1,"y":0.001},{"p":"a5","x":2,"y":0.001},{"p":"a5","x":2.6,"y":0.003},{"p":"a5","x":2.8,"y":0.012},{"p":"a5","x":2.9,"y":0.035},{"p":"a5","x":3,"y":0.07},{"p":"a5","x":3.1,"y":0.083},{"p":"a5","x":3.15,"y":0.084},{"p":"a5","x":3.2,"y":0.075},{"p":"a5","x":3.3,"y":0.05},{"p":"a5","x":3.4,"y":0.032},{"p":"a5","x":3.5,"y":0.026},{"p":"a5","x":3.6,"y":0.025},{"p":"a5","x":3.7,"y":0.027},{"p":"a5","x":3.8,"y":0.032},{"p":"a5","x":3.9,"y":0.04},{"p":"a5","x":4,"y":0.05},{"p":"a5","x":4.1,"y":0.062},{"p":"a5","x":4.2,"y":0.073},{"p":"a5","x":4.3,"y":0.078},{"p":"a5","x":4.4,"y":0.075},{"p":"a5","x":4.5,"y":0.065},{"p":"a5","x":4.6,"y":0.05},{"p":"a5","x":4.7,"y":0.035},{"p":"a5","x":4.8,"y":0.023},{"p":"a5","x":4.9,"y":0.016},{"p":"a5","x":5,"y":0.012},{"p":"a5","x":5.2,"y":0.008},{"p":"a5","x":5.4,"y":0.005},{"p":"a5","x":5.6,"y":0.004},{"p":"a5","x":5.7,"y":0.006},{"p":"a5","x":5.8,"y":0.01},{"p":"a5","x":5.9,"y":0.008},{"p":"a5","x":6,"y":0.003},
{"p":"a6","x":1,"y":0.001},{"p":"a6","x":2,"y":0.001},{"p":"a6","x":2.6,"y":0.001},{"p":"a6","x":2.8,"y":0.005},{"p":"a6","x":2.9,"y":0.02},{"p":"a6","x":3,"y":0.045},{"p":"a6","x":3.1,"y":0.062},{"p":"a6","x":3.15,"y":0.065},{"p":"a6","x":3.2,"y":0.06},{"p":"a6","x":3.3,"y":0.035},{"p":"a6","x":3.4,"y":0.018},{"p":"a6","x":3.5,"y":0.013},{"p":"a6","x":3.6,"y":0.012},{"p":"a6","x":3.7,"y":0.013},{"p":"a6","x":3.8,"y":0.016},{"p":"a6","x":3.9,"y":0.022},{"p":"a6","x":4,"y":0.035},{"p":"a6","x":4.1,"y":0.055},{"p":"a6","x":4.2,"y":0.075},{"p":"a6","x":4.3,"y":0.095},{"p":"a6","x":4.4,"y":0.12},{"p":"a6","x":4.5,"y":0.15},{"p":"a6","x":4.55,"y":0.165},{"p":"a6","x":4.6,"y":0.16},{"p":"a6","x":4.7,"y":0.09},{"p":"a6","x":4.8,"y":0.03},{"p":"a6","x":4.9,"y":0.008},{"p":"a6","x":5,"y":0.003},{"p":"a6","x":5.2,"y":0.001},{"p":"a6","x":6,"y":0.001},
{"p":"b1","x":1,"y":0.001},{"p":"b1","x":2,"y":0.002},{"p":"b1","x":2.4,"y":0.004},{"p":"b1","x":2.6,"y":0.008},{"p":"b1","x":2.8,"y":0.015},{"p":"b1","x":2.9,"y":0.025},{"p":"b1","x":3,"y":0.04},{"p":"b1","x":3.1,"y":0.052},{"p":"b1","x":3.2,"y":0.055},{"p":"b1","x":3.3,"y":0.045},{"p":"b1","x":3.4,"y":0.038},{"p":"b1","x":3.5,"y":0.04},{"p":"b1","x":3.6,"y":0.05},{"p":"b1","x":3.7,"y":0.06},{"p":"b1","x":3.8,"y":0.072},{"p":"b1","x":3.9,"y":0.088},{"p":"b1","x":4,"y":0.103},{"p":"b1","x":4.1,"y":0.112},{"p":"b1","x":4.2,"y":0.11},{"p":"b1","x":4.3,"y":0.098},{"p":"b1","x":4.4,"y":0.078},{"p":"b1","x":4.5,"y":0.055},{"p":"b1","x":4.6,"y":0.035},{"p":"b1","x":4.7,"y":0.022},{"p":"b1","x":4.8,"y":0.014},{"p":"b1","x":4.9,"y":0.009},{"p":"b1","x":5,"y":0.006},{"p":"b1","x":5.2,"y":0.004},{"p":"b1","x":5.4,"y":0.002},{"p":"b1","x":6,"y":0.001},
{"p":"b2","x":1,"y":0.001},{"p":"b2","x":2,"y":0.001},{"p":"b2","x":2.6,"y":0.003},{"p":"b2","x":2.8,"y":0.01},{"p":"b2","x":2.9,"y":0.02},{"p":"b2","x":3,"y":0.03},{"p":"b2","x":3.1,"y":0.045},{"p":"b2","x":3.2,"y":0.048},{"p":"b2","x":3.3,"y":0.04},{"p":"b2","x":3.4,"y":0.03},{"p":"b2","x":3.5,"y":0.025},{"p":"b2","x":3.6,"y":0.026},{"p":"b2","x":3.7,"y":0.03},{"p":"b2","x":3.8,"y":0.038},{"p":"b2","x":3.9,"y":0.05},{"p":"b2","x":4,"y":0.065},{"p":"b2","x":4.1,"y":0.085},{"p":"b2","x":4.2,"y":0.105},{"p":"b2","x":4.3,"y":0.113},{"p":"b2","x":4.4,"y":0.1},{"p":"b2","x":4.5,"y":0.075},{"p":"b2","x":4.6,"y":0.048},{"p":"b2","x":4.7,"y":0.025},{"p":"b2","x":4.8,"y":0.012},{"p":"b2","x":4.9,"y":0.006},{"p":"b2","x":5,"y":0.004},{"p":"b2","x":5.2,"y":0.002},{"p":"b2","x":6,"y":0.001},
{"p":"b3","x":1,"y":0.001},{"p":"b3","x":2,"y":0.001},{"p":"b3","x":2.6,"y":0.002},{"p":"b3","x":2.8,"y":0.01},{"p":"b3","x":2.9,"y":0.02},{"p":"b3","x":3,"y":0.035},{"p":"b3","x":3.1,"y":0.043},{"p":"b3","x":3.2,"y":0.045},{"p":"b3","x":3.3,"y":0.04},{"p":"b3","x":3.4,"y":0.03},{"p":"b3","x":3.5,"y":0.024},{"p":"b3","x":3.6,"y":0.028},{"p":"b3","x":3.7,"y":0.04},{"p":"b3","x":3.8,"y":0.058},{"p":"b3","x":3.9,"y":0.075},{"p":"b3","x":4,"y":0.09},{"p":"b3","x":4.1,"y":0.1},{"p":"b3","x":4.2,"y":0.105},{"p":"b3","x":4.3,"y":0.1},{"p":"b3","x":4.4,"y":0.085},{"p":"b3","x":4.5,"y":0.063},{"p":"b3","x":4.6,"y":0.04},{"p":"b3","x":4.7,"y":0.022},{"p":"b3","x":4.8,"y":0.012},{"p":"b3","x":5,"y":0.005},{"p":"b3","x":5.2,"y":0.002},{"p":"b3","x":6,"y":0.001},
{"p":"b4","x":1,"y":0.001},{"p":"b4","x":2,"y":0.001},{"p":"b4","x":2.2,"y":0.001},{"p":"b4","x":2.6,"y":0.003},{"p":"b4","x":2.8,"y":0.012},{"p":"b4","x":2.9,"y":0.025},{"p":"b4","x":3,"y":0.04},{"p":"b4","x":3.1,"y":0.055},{"p":"b4","x":3.2,"y":0.06},{"p":"b4","x":3.3,"y":0.05},{"p":"b4","x":3.4,"y":0.04},{"p":"b4","x":3.5,"y":0.036},{"p":"b4","x":3.6,"y":0.04},{"p":"b4","x":3.7,"y":0.048},{"p":"b4","x":3.8,"y":0.057},{"p":"b4","x":3.9,"y":0.067},{"p":"b4","x":4,"y":0.076},{"p":"b4","x":4.1,"y":0.082},{"p":"b4","x":4.2,"y":0.083},{"p":"b4","x":4.3,"y":0.08},{"p":"b4","x":4.4,"y":0.072},{"p":"b4","x":4.5,"y":0.06},{"p":"b4","x":4.6,"y":0.045},{"p":"b4","x":4.7,"y":0.032},{"p":"b4","x":4.8,"y":0.022},{"p":"b4","x":4.9,"y":0.015},{"p":"b4","x":5,"y":0.011},{"p":"b4","x":5.2,"y":0.007},{"p":"b4","x":5.4,"y":0.005},{"p":"b4","x":5.6,"y":0.004},{"p":"b4","x":5.8,"y":0.003},{"p":"b4","x":6,"y":0.002},
{"p":"b5","x":1,"y":0.001},{"p":"b5","x":2,"y":0.001},{"p":"b5","x":2.4,"y":0.002},{"p":"b5","x":2.6,"y":0.005},{"p":"b5","x":2.8,"y":0.015},{"p":"b5","x":2.9,"y":0.03},{"p":"b5","x":3,"y":0.05},{"p":"b5","x":3.1,"y":0.063},{"p":"b5","x":3.2,"y":0.06},{"p":"b5","x":3.3,"y":0.048},{"p":"b5","x":3.4,"y":0.04},{"p":"b5","x":3.5,"y":0.045},{"p":"b5","x":3.6,"y":0.058},{"p":"b5","x":3.7,"y":0.072},{"p":"b5","x":3.8,"y":0.085},{"p":"b5","x":3.9,"y":0.095},{"p":"b5","x":4,"y":0.1},{"p":"b5","x":4.1,"y":0.095},{"p":"b5","x":4.2,"y":0.082},{"p":"b5","x":4.3,"y":0.065},{"p":"b5","x":4.4,"y":0.045},{"p":"b5","x":4.5,"y":0.03},{"p":"b5","x":4.6,"y":0.02},{"p":"b5","x":4.7,"y":0.013},{"p":"b5","x":4.8,"y":0.008},{"p":"b5","x":5,"y":0.004},{"p":"b5","x":5.2,"y":0.002},{"p":"b5","x":6,"y":0.001},
{"p":"b6","x":1,"y":0.001},{"p":"b6","x":2,"y":0.001},{"p":"b6","x":2.6,"y":0.001},{"p":"b6","x":2.8,"y":0.005},{"p":"b6","x":2.9,"y":0.012},{"p":"b6","x":3,"y":0.025},{"p":"b6","x":3.1,"y":0.042},{"p":"b6","x":3.15,"y":0.046},{"p":"b6","x":3.2,"y":0.04},{"p":"b6","x":3.3,"y":0.022},{"p":"b6","x":3.4,"y":0.016},{"p":"b6","x":3.5,"y":0.017},{"p":"b6","x":3.6,"y":0.02},{"p":"b6","x":3.7,"y":0.025},{"p":"b6","x":3.8,"y":0.033},{"p":"b6","x":3.9,"y":0.045},{"p":"b6","x":4,"y":0.062},{"p":"b6","x":4.1,"y":0.085},{"p":"b6","x":4.2,"y":0.115},{"p":"b6","x":4.3,"y":0.14},{"p":"b6","x":4.35,"y":0.15},{"p":"b6","x":4.4,"y":0.145},{"p":"b6","x":4.5,"y":0.115},{"p":"b6","x":4.6,"y":0.075},{"p":"b6","x":4.7,"y":0.04},{"p":"b6","x":4.8,"y":0.018},{"p":"b6","x":4.9,"y":0.008},{"p":"b6","x":5,"y":0.004},{"p":"b6","x":5.2,"y":0.002},{"p":"b6","x":6,"y":0.001},
{"p":"c1","x":1,"y":0.0005},{"p":"c1","x":2,"y":0.0005},{"p":"c1","x":2.4,"y":0.002},{"p":"c1","x":2.6,"y":0.006},{"p":"c1","x":2.8,"y":0.017},{"p":"c1","x":3,"y":0.029},{"p":"c1","x":3.1,"y":0.034},{"p":"c1","x":3.2,"y":0.035},{"p":"c1","x":3.3,"y":0.033},{"p":"c1","x":3.4,"y":0.03},{"p":"c1","x":3.5,"y":0.028},{"p":"c1","x":3.6,"y":0.028},{"p":"c1","x":3.7,"y":0.03},{"p":"c1","x":3.8,"y":0.034},{"p":"c1","x":3.9,"y":0.039},{"p":"c1","x":4,"y":0.042},{"p":"c1","x":4.1,"y":0.043},{"p":"c1","x":4.2,"y":0.043},{"p":"c1","x":4.3,"y":0.041},{"p":"c1","x":4.4,"y":0.037},{"p":"c1","x":4.5,"y":0.032},{"p":"c1","x":4.6,"y":0.028},{"p":"c1","x":4.7,"y":0.024},{"p":"c1","x":4.8,"y":0.021},{"p":"c1","x":5,"y":0.018},{"p":"c1","x":5.2,"y":0.017},{"p":"c1","x":5.4,"y":0.017},{"p":"c1","x":5.6,"y":0.015},{"p":"c1","x":5.8,"y":0.012},{"p":"c1","x":6,"y":0.007},
{"p":"c2","x":1,"y":0.0005},{"p":"c2","x":2,"y":0.001},{"p":"c2","x":2.4,"y":0.004},{"p":"c2","x":2.6,"y":0.008},{"p":"c2","x":2.8,"y":0.018},{"p":"c2","x":3,"y":0.027},{"p":"c2","x":3.2,"y":0.03},{"p":"c2","x":3.4,"y":0.03},{"p":"c2","x":3.6,"y":0.03},{"p":"c2","x":3.8,"y":0.031},{"p":"c2","x":4,"y":0.033},{"p":"c2","x":4.2,"y":0.035},{"p":"c2","x":4.3,"y":0.035},{"p":"c2","x":4.4,"y":0.034},{"p":"c2","x":4.6,"y":0.028},{"p":"c2","x":4.8,"y":0.02},{"p":"c2","x":5,"y":0.014},{"p":"c2","x":5.2,"y":0.012},{"p":"c2","x":5.4,"y":0.011},{"p":"c2","x":5.6,"y":0.013},{"p":"c2","x":5.7,"y":0.014},{"p":"c2","x":5.8,"y":0.011},{"p":"c2","x":6,"y":0.006},
{"p":"c3","x":1,"y":0.0005},{"p":"c3","x":2,"y":0.001},{"p":"c3","x":2.3,"y":0.003},{"p":"c3","x":2.5,"y":0.01},{"p":"c3","x":2.6,"y":0.016},{"p":"c3","x":2.8,"y":0.028},{"p":"c3","x":3,"y":0.037},{"p":"c3","x":3.1,"y":0.038},{"p":"c3","x":3.2,"y":0.035},{"p":"c3","x":3.3,"y":0.031},{"p":"c3","x":3.4,"y":0.03},{"p":"c3","x":3.5,"y":0.031},{"p":"c3","x":3.6,"y":0.034},{"p":"c3","x":3.8,"y":0.039},{"p":"c3","x":4,"y":0.042},{"p":"c3","x":4.2,"y":0.043},{"p":"c3","x":4.4,"y":0.042},{"p":"c3","x":4.6,"y":0.038},{"p":"c3","x":4.8,"y":0.033},{"p":"c3","x":5,"y":0.028},{"p":"c3","x":5.2,"y":0.024},{"p":"c3","x":5.4,"y":0.02},{"p":"c3","x":5.6,"y":0.016},{"p":"c3","x":5.8,"y":0.012},{"p":"c3","x":6,"y":0.008},
{"p":"c4","x":1,"y":0.0005},{"p":"c4","x":2,"y":0.001},{"p":"c4","x":2.4,"y":0.005},{"p":"c4","x":2.6,"y":0.012},{"p":"c4","x":2.8,"y":0.025},{"p":"c4","x":3,"y":0.037},{"p":"c4","x":3.1,"y":0.041},{"p":"c4","x":3.2,"y":0.042},{"p":"c4","x":3.3,"y":0.04},{"p":"c4","x":3.4,"y":0.034},{"p":"c4","x":3.5,"y":0.03},{"p":"c4","x":3.6,"y":0.028},{"p":"c4","x":3.8,"y":0.028},{"p":"c4","x":4,"y":0.031},{"p":"c4","x":4.2,"y":0.036},{"p":"c4","x":4.3,"y":0.038},{"p":"c4","x":4.4,"y":0.038},{"p":"c4","x":4.6,"y":0.033},{"p":"c4","x":4.8,"y":0.026},{"p":"c4","x":5,"y":0.02},{"p":"c4","x":5.2,"y":0.017},{"p":"c4","x":5.4,"y":0.015},{"p":"c4","x":5.6,"y":0.013},{"p":"c4","x":5.8,"y":0.01},{"p":"c4","x":6,"y":0.006},
{"p":"c5","x":1,"y":0.0005},{"p":"c5","x":2,"y":0.001},{"p":"c5","x":2.4,"y":0.005},{"p":"c5","x":2.6,"y":0.012},{"p":"c5","x":2.8,"y":0.025},{"p":"c5","x":3,"y":0.04},{"p":"c5","x":3.2,"y":0.05},{"p":"c5","x":3.3,"y":0.05},{"p":"c5","x":3.4,"y":0.048},{"p":"c5","x":3.6,"y":0.045},{"p":"c5","x":3.8,"y":0.045},{"p":"c5","x":4,"y":0.046},{"p":"c5","x":4.2,"y":0.047},{"p":"c5","x":4.4,"y":0.046},{"p":"c5","x":4.6,"y":0.042},{"p":"c5","x":4.8,"y":0.032},{"p":"c5","x":5,"y":0.022},{"p":"c5","x":5.2,"y":0.015},{"p":"c5","x":5.4,"y":0.011},{"p":"c5","x":5.6,"y":0.01},{"p":"c5","x":5.7,"y":0.012},{"p":"c5","x":5.8,"y":0.013},{"p":"c5","x":5.9,"y":0.011},{"p":"c5","x":6,"y":0.008},
{"p":"c6","x":1,"y":0.0005},{"p":"c6","x":2,"y":0.001},{"p":"c6","x":2.4,"y":0.004},{"p":"c6","x":2.6,"y":0.01},{"p":"c6","x":2.8,"y":0.021},{"p":"c6","x":3,"y":0.028},{"p":"c6","x":3.1,"y":0.027},{"p":"c6","x":3.2,"y":0.024},{"p":"c6","x":3.4,"y":0.02},{"p":"c6","x":3.5,"y":0.02},{"p":"c6","x":3.6,"y":0.022},{"p":"c6","x":3.8,"y":0.032},{"p":"c6","x":4,"y":0.043},{"p":"c6","x":4.2,"y":0.051},{"p":"c6","x":4.3,"y":0.053},{"p":"c6","x":4.4,"y":0.052},{"p":"c6","x":4.6,"y":0.043},{"p":"c6","x":4.8,"y":0.028},{"p":"c6","x":5,"y":0.016},{"p":"c6","x":5.2,"y":0.01},{"p":"c6","x":5.4,"y":0.008},{"p":"c6","x":5.6,"y":0.007},{"p":"c6","x":6,"y":0.007},
{"p":"d1","x":1,"y":0.0005},{"p":"d1","x":2,"y":0.001},{"p":"d1","x":2.4,"y":0.003},{"p":"d1","x":2.6,"y":0.008},{"p":"d1","x":2.8,"y":0.017},{"p":"d1","x":3,"y":0.025},{"p":"d1","x":3.2,"y":0.028},{"p":"d1","x":3.4,"y":0.028},{"p":"d1","x":3.6,"y":0.03},{"p":"d1","x":3.8,"y":0.038},{"p":"d1","x":3.9,"y":0.045},{"p":"d1","x":4,"y":0.051},{"p":"d1","x":4.1,"y":0.054},{"p":"d1","x":4.2,"y":0.052},{"p":"d1","x":4.3,"y":0.045},{"p":"d1","x":4.4,"y":0.036},{"p":"d1","x":4.6,"y":0.022},{"p":"d1","x":4.8,"y":0.015},{"p":"d1","x":5,"y":0.012},{"p":"d1","x":5.2,"y":0.011},{"p":"d1","x":5.4,"y":0.011},{"p":"d1","x":5.6,"y":0.011},{"p":"d1","x":5.8,"y":0.011},{"p":"d1","x":6,"y":0.007},
{"p":"d2","x":1,"y":0.0005},{"p":"d2","x":2,"y":0.001},{"p":"d2","x":2.4,"y":0.004},{"p":"d2","x":2.6,"y":0.008},{"p":"d2","x":2.8,"y":0.015},{"p":"d2","x":3,"y":0.022},{"p":"d2","x":3.2,"y":0.026},{"p":"d2","x":3.4,"y":0.027},{"p":"d2","x":3.6,"y":0.03},{"p":"d2","x":3.8,"y":0.037},{"p":"d2","x":4,"y":0.045},{"p":"d2","x":4.1,"y":0.05},{"p":"d2","x":4.2,"y":0.052},{"p":"d2","x":4.3,"y":0.05},{"p":"d2","x":4.4,"y":0.044},{"p":"d2","x":4.6,"y":0.03},{"p":"d2","x":4.8,"y":0.018},{"p":"d2","x":5,"y":0.01},{"p":"d2","x":5.2,"y":0.008},{"p":"d2","x":5.4,"y":0.008},{"p":"d2","x":5.6,"y":0.009},{"p":"d2","x":5.8,"y":0.01},{"p":"d2","x":6,"y":0.007},
{"p":"d3","x":1,"y":0.0005},{"p":"d3","x":2,"y":0.001},{"p":"d3","x":2.4,"y":0.002},{"p":"d3","x":2.6,"y":0.01},{"p":"d3","x":2.8,"y":0.022},{"p":"d3","x":3,"y":0.028},{"p":"d3","x":3.1,"y":0.029},{"p":"d3","x":3.2,"y":0.027},{"p":"d3","x":3.3,"y":0.024},{"p":"d3","x":3.4,"y":0.022},{"p":"d3","x":3.6,"y":0.024},{"p":"d3","x":3.8,"y":0.029},{"p":"d3","x":4,"y":0.033},{"p":"d3","x":4.2,"y":0.036},{"p":"d3","x":4.3,"y":0.036},{"p":"d3","x":4.4,"y":0.034},{"p":"d3","x":4.6,"y":0.028},{"p":"d3","x":4.8,"y":0.018},{"p":"d3","x":5,"y":0.01},{"p":"d3","x":5.2,"y":0.006},{"p":"d3","x":5.4,"y":0.005},{"p":"d3","x":5.6,"y":0.007},{"p":"d3","x":5.8,"y":0.01},{"p":"d3","x":6,"y":0.012},
{"p":"d4","x":1,"y":0.0005},{"p":"d4","x":2,"y":0.001},{"p":"d4","x":2.4,"y":0.004},{"p":"d4","x":2.6,"y":0.008},{"p":"d4","x":2.8,"y":0.016},{"p":"d4","x":3,"y":0.025},{"p":"d4","x":3.2,"y":0.03},{"p":"d4","x":3.4,"y":0.031},{"p":"d4","x":3.6,"y":0.032},{"p":"d4","x":3.8,"y":0.034},{"p":"d4","x":4,"y":0.038},{"p":"d4","x":4.2,"y":0.043},{"p":"d4","x":4.3,"y":0.045},{"p":"d4","x":4.4,"y":0.043},{"p":"d4","x":4.6,"y":0.032},{"p":"d4","x":4.8,"y":0.02},{"p":"d4","x":5,"y":0.014},{"p":"d4","x":5.2,"y":0.012},{"p":"d4","x":5.4,"y":0.012},{"p":"d4","x":5.6,"y":0.012},{"p":"d4","x":5.8,"y":0.011},{"p":"d4","x":6,"y":0.007},
{"p":"d5","x":1,"y":0.0005},{"p":"d5","x":2,"y":0.001},{"p":"d5","x":2.2,"y":0.002},{"p":"d5","x":2.4,"y":0.004},{"p":"d5","x":2.6,"y":0.01},{"p":"d5","x":2.8,"y":0.018},{"p":"d5","x":3,"y":0.027},{"p":"d5","x":3.2,"y":0.033},{"p":"d5","x":3.4,"y":0.036},{"p":"d5","x":3.6,"y":0.037},{"p":"d5","x":3.8,"y":0.038},{"p":"d5","x":4,"y":0.038},{"p":"d5","x":4.2,"y":0.036},{"p":"d5","x":4.4,"y":0.032},{"p":"d5","x":4.6,"y":0.025},{"p":"d5","x":4.8,"y":0.018},{"p":"d5","x":5,"y":0.013},{"p":"d5","x":5.2,"y":0.011},{"p":"d5","x":5.4,"y":0.01},{"p":"d5","x":5.6,"y":0.01},{"p":"d5","x":5.8,"y":0.01},{"p":"d5","x":6,"y":0.009},
{"p":"d6","x":1,"y":0.0005},{"p":"d6","x":2,"y":0.001},{"p":"d6","x":2.4,"y":0.004},{"p":"d6","x":2.6,"y":0.009},{"p":"d6","x":2.8,"y":0.017},{"p":"d6","x":3,"y":0.023},{"p":"d6","x":3.2,"y":0.025},{"p":"d6","x":3.4,"y":0.025},{"p":"d6","x":3.6,"y":0.028},{"p":"d6","x":3.8,"y":0.037},{"p":"d6","x":4,"y":0.048},{"p":"d6","x":4.2,"y":0.056},{"p":"d6","x":4.3,"y":0.058},{"p":"d6","x":4.4,"y":0.057},{"p":"d6","x":4.6,"y":0.047},{"p":"d6","x":4.8,"y":0.03},{"p":"d6","x":5,"y":0.016},{"p":"d6","x":5.2,"y":0.01},{"p":"d6","x":5.4,"y":0.008},{"p":"d6","x":5.6,"y":0.008},{"p":"d6","x":5.8,"y":0.011},{"p":"d6","x":5.9,"y":0.011},{"p":"d6","x":6,"y":0.009}
]},
"spacing":22,
"resolve":{"scale":{"color":"independent"}},
"hconcat":[
{"spacing":46,"resolve":{"scale":{"color":"independent"}},"vconcat":[
 {"spacing":-121,"hconcat":[
   {"width":263,"height":46,"title":{"text":"A","anchor":"start","dx":-83,"fontSize":30,"offset":8},"data":{"values":[{"t":"1.8Hz"}]},"mark":{"type":"text","color":"white","fontSize":29,"fontWeight":"bold"},"encoding":{"text":{"field":"t"}},"view":{"fill":"#a7a9a6","stroke":"#c4c6c3"}},
   {"width":250,"height":46,"title":{"text":"Correct Response","anchor":"start","dx":-164,"fontSize":30,"offset":8},"data":{"values":[{"t":"2.6Hz"}]},"mark":{"type":"text","color":"white","fontSize":29,"fontWeight":"bold"},"encoding":{"text":{"field":"t"}},"view":{"fill":"#a7a9a6","stroke":"#c4c6c3"}}
 ]},
 {"columns":2,"align":"each","spacing":{"row":9,"column":11},"resolve":{"scale":{"color":"independent"}},"concat":[
   {"title":"[P μ σ] = [100\u00a0 4.11\u00a0 0.423]","width":263,"height":90,"resolve":{"scale":{"y":"independent"}},"layer":[
    {"data":{"name":"bars"},"transform":[{"filter":"datum.p=='a1'"}],"mark":"bar","encoding":{"x":{"field":"x","type":"quantitative","bin":{"binned":true,"step":0.1},"scale":{"domain":[1,6]},"axis":{"title":null,"values":[1,2,3,4,5,6]}},"y":{"field":"y","type":"quantitative","scale":{"domain":[0,0.155]},"axis":{"title":"Periodicity","orient":"left","values":[0,0.05,0.1,0.15],"titlePadding":7}},"color":{"datum":"760","legend":{"title":null}}}},
    {"data":{"name":"curves"},"transform":[{"filter":"datum.p=='a1'"}],"mark":{"type":"line","color":"#ff0000","strokeWidth":3},"encoding":{"x":{"field":"x","type":"quantitative","axis":{"title":null}},"y":{"field":"y","type":"quantitative","scale":{"domain":[0,0.155]},"axis":{"title":"STG","orient":"left","labels":false,"grid":false,"titlePadding":65,"titleFontSize":20}}}}]},
   {"title":"[P μ σ] = [99\u00a0 4.15\u00a0 0.104]","width":240,"height":90,"layer":[
    {"data":{"name":"bars"},"transform":[{"filter":"datum.p=='b1'"}],"mark":"bar","encoding":{"x":{"field":"x","type":"quantitative","bin":{"binned":true,"step":0.1},"scale":{"domain":[1,6]},"axis":{"title":null,"values":[1,2,3,4,5,6]}},"y":{"field":"y","type":"quantitative","scale":{"domain":[0,0.155]},"axis":{"title":null,"values":[0,0.05,0.1,0.15]}},"color":{"datum":"760","legend":{"title":null}}}},
    {"data":{"name":"curves"},"transform":[{"filter":"datum.p=='b1'"}],"mark":{"type":"line","color":"#0000ff","strokeWidth":1},"encoding":{"x":{"field":"x","type":"quantitative","axis":{"title":null,"values":[1,2,3,4,5,6]}},"y":{"field":"y","type":"quantitative","scale":{"domain":[0,0.155]},"axis":{"title":null,"values":[0,0.05,0.1,0.15]}}}},
    {"data":{"values":[{"k":"KLD = 0.2"}]},"mark":{"type":"text","align":"left","baseline":"middle","fontSize":15.5},"encoding":{"x":{"datum":1.12},"y":{"datum":0.122},"text":{"field":"k"}}}]},
   {"title":"[P μ σ] = [100\u00a0 4.45\u00a0 0.058]","width":263,"height":90,"resolve":{"scale":{"y":"independent"}},"layer":[
    {"data":{"name":"bars"},"transform":[{"filter":"datum.p=='a2'"}],"mark":"bar","encoding":{"x":{"field":"x","type":"quantitative","bin":{"binned":true,"step":0.1},"scale":{"domain":[1,6]},"axis":{"title":null,"values":[1,2,3,4,5,6]}},"y":{"field":"y","type":"quantitative","scale":{"domain":[0,0.155]},"axis":{"title":"Periodicity","orient":"left","values":[0,0.05,0.1,0.15],"titlePadding":7}},"color":{"datum":"1672","legend":{"title":null}}}},
    {"data":{"name":"curves"},"transform":[{"filter":"datum.p=='a2'"}],"mark":{"type":"line","color":"#ff0000","strokeWidth":3},"encoding":{"x":{"field":"x","type":"quantitative","axis":{"title":null}},"y":{"field":"y","type":"quantitative","scale":{"domain":[0,0.155]},"axis":{"title":"MTG","orient":"left","labels":false,"grid":false,"titlePadding":65,"titleFontSize":20}}}}]},
   {"title":"[P μ σ] = [100\u00a0 4.32\u00a0 0.051]","width":240,"height":90,"layer":[
    {"data":{"name":"bars"},"transform":[{"filter":"datum.p=='b2'"}],"mark":"bar","encoding":{"x":{"field":"x","type":"quantitative","bin":{"binned":true,"step":0.1},"scale":{"domain":[1,6]},"axis":{"title":null,"values":[1,2,3,4,5,6]}},"y":{"field":"y","type":"quantitative","scale":{"domain":[0,0.155]},"axis":{"title":null,"values":[0,0.05,0.1,0.15]}},"color":{"datum":"1672","legend":{"title":null}}}},
    {"data":{"name":"curves"},"transform":[{"filter":"datum.p=='b2'"}],"mark":{"type":"line","color":"#0000ff","strokeWidth":1},"encoding":{"x":{"field":"x","type":"quantitative","axis":{"title":null,"values":[1,2,3,4,5,6]}},"y":{"field":"y","type":"quantitative","scale":{"domain":[0,0.155]},"axis":{"title":null,"values":[0,0.05,0.1,0.15]}}}},
    {"data":{"values":[{"k":"KLD = 0.18"}]},"mark":{"type":"text","align":"left","baseline":"middle","fontSize":15.5},"encoding":{"x":{"datum":1.12},"y":{"datum":0.122},"text":{"field":"k"}}}]},
   {"title":"[P μ σ] = [100\u00a0 4.25\u00a0 0.073]","width":263,"height":90,"resolve":{"scale":{"y":"independent"}},"layer":[
    {"data":{"name":"bars"},"transform":[{"filter":"datum.p=='a3'"}],"mark":"bar","encoding":{"x":{"field":"x","type":"quantitative","bin":{"binned":true,"step":0.1},"scale":{"domain":[1,6]},"axis":{"title":null,"values":[1,2,3,4,5,6]}},"y":{"field":"y","type":"quantitative","scale":{"domain":[0,0.155]},"axis":{"title":"Periodicity","orient":"left","values":[0,0.05,0.1,0.15],"titlePadding":7}},"color":{"datum":"304","legend":{"title":null}}}},
    {"data":{"name":"curves"},"transform":[{"filter":"datum.p=='a3'"}],"mark":{"type":"line","color":"#ff0000","strokeWidth":3},"encoding":{"x":{"field":"x","type":"quantitative","axis":{"title":null}},"y":{"field":"y","type":"quantitative","scale":{"domain":[0,0.155]},"axis":{"title":"SMG","orient":"left","labels":false,"grid":false,"titlePadding":65,"titleFontSize":20}}}}]},
   {"title":"[P μ σ] = [100\u00a0 4.2\u00a0 0.098]","width":240,"height":90,"layer":[
    {"data":{"name":"bars"},"transform":[{"filter":"datum.p=='b3'"}],"mark":"bar","encoding":{"x":{"field":"x","type":"quantitative","bin":{"binned":true,"step":0.1},"scale":{"domain":[1,6]},"axis":{"title":null,"values":[1,2,3,4,5,6]}},"y":{"field":"y","type":"quantitative","scale":{"domain":[0,0.155]},"axis":{"title":null,"values":[0,0.05,0.1,0.15]}},"color":{"datum":"304","legend":{"title":null}}}},
    {"data":{"name":"curves"},"transform":[{"filter":"datum.p=='b3'"}],"mark":{"type":"line","color":"#0000ff","strokeWidth":1},"encoding":{"x":{"field":"x","type":"quantitative","axis":{"title":null,"values":[1,2,3,4,5,6]}},"y":{"field":"y","type":"quantitative","scale":{"domain":[0,0.155]},"axis":{"title":null,"values":[0,0.05,0.1,0.15]}}}},
    {"data":{"values":[{"k":"KLD = 0.14"}]},"mark":{"type":"text","align":"left","baseline":"middle","fontSize":15.5},"encoding":{"x":{"datum":1.12},"y":{"datum":0.122},"text":{"field":"k"}}}]},
   {"title":"[P μ σ] = [100\u00a0 4.38\u00a0 0.053]","width":263,"height":90,"resolve":{"scale":{"y":"independent"}},"layer":[
    {"data":{"name":"bars"},"transform":[{"filter":"datum.p=='a4'"}],"mark":"bar","encoding":{"x":{"field":"x","type":"quantitative","bin":{"binned":true,"step":0.1},"scale":{"domain":[1,6]},"axis":{"title":null,"values":[1,2,3,4,5,6]}},"y":{"field":"y","type":"quantitative","scale":{"domain":[0,0.155]},"axis":{"title":"Periodicity","orient":"left","values":[0,0.05,0.1,0.15],"titlePadding":7}},"color":{"datum":"1216","legend":{"title":null}}}},
    {"data":{"name":"curves"},"transform":[{"filter":"datum.p=='a4'"}],"mark":{"type":"line","color":"#ff0000","strokeWidth":3},"encoding":{"x":{"field":"x","type":"quantitative","axis":{"title":null}},"y":{"field":"y","type":"quantitative","scale":{"domain":[0,0.155]},"axis":{"title":"PC","orient":"left","labels":false,"grid":false,"titlePadding":65,"titleFontSize":20}}}}]},
   {"title":"[P μ σ] = [100\u00a0 4.14\u00a0 0.126]","width":240,"height":90,"layer":[
    {"data":{"name":"bars"},"transform":[{"filter":"datum.p=='b4'"}],"mark":"bar","encoding":{"x":{"field":"x","type":"quantitative","bin":{"binned":true,"step":0.1},"scale":{"domain":[1,6]},"axis":{"title":null,"values":[1,2,3,4,5,6]}},"y":{"field":"y","type":"quantitative","scale":{"domain":[0,0.155]},"axis":{"title":null,"values":[0,0.05,0.1,0.15]}},"color":{"datum":"1216","legend":{"title":null}}}},
    {"data":{"name":"curves"},"transform":[{"filter":"datum.p=='b4'"}],"mark":{"type":"line","color":"#0000ff","strokeWidth":1},"encoding":{"x":{"field":"x","type":"quantitative","axis":{"title":null,"values":[1,2,3,4,5,6]}},"y":{"field":"y","type":"quantitative","scale":{"domain":[0,0.155]},"axis":{"title":null,"values":[0,0.05,0.1,0.15]}}}},
    {"data":{"values":[{"k":"KLD = 0.13"}]},"mark":{"type":"text","align":"left","baseline":"middle","fontSize":15.5},"encoding":{"x":{"datum":1.12},"y":{"datum":0.122},"text":{"field":"k"}}}]},
   {"title":"[P μ σ] = [100\u00a0 4.02\u00a0 0.383]","width":263,"height":90,"resolve":{"scale":{"y":"independent"}},"layer":[
    {"data":{"name":"bars"},"transform":[{"filter":"datum.p=='a5'"}],"mark":"bar","encoding":{"x":{"field":"x","type":"quantitative","bin":{"binned":true,"step":0.1},"scale":{"domain":[1,6]},"axis":{"title":null,"values":[1,2,3,4,5,6]}},"y":{"field":"y","type":"quantitative","scale":{"domain":[0,0.155]},"axis":{"title":"Periodicity","orient":"left","values":[0,0.05,0.1,0.15],"titlePadding":7}},"color":{"datum":"798","legend":{"title":null}}}},
    {"data":{"name":"curves"},"transform":[{"filter":"datum.p=='a5'"}],"mark":{"type":"line","color":"#ff0000","strokeWidth":3},"encoding":{"x":{"field":"x","type":"quantitative","axis":{"title":null}},"y":{"field":"y","type":"quantitative","scale":{"domain":[0,0.155]},"axis":{"title":"IFG","orient":"left","labels":false,"grid":false,"titlePadding":65,"titleFontSize":20}}}}]},
   {"title":"[P μ σ] = [100\u00a0 4.03\u00a0 0.126]","width":240,"height":90,"layer":[
    {"data":{"name":"bars"},"transform":[{"filter":"datum.p=='b5'"}],"mark":"bar","encoding":{"x":{"field":"x","type":"quantitative","bin":{"binned":true,"step":0.1},"scale":{"domain":[1,6]},"axis":{"title":null,"values":[1,2,3,4,5,6]}},"y":{"field":"y","type":"quantitative","scale":{"domain":[0,0.155]},"axis":{"title":null,"values":[0,0.05,0.1,0.15]}},"color":{"datum":"798","legend":{"title":null}}}},
    {"data":{"name":"curves"},"transform":[{"filter":"datum.p=='b5'"}],"mark":{"type":"line","color":"#0000ff","strokeWidth":1},"encoding":{"x":{"field":"x","type":"quantitative","axis":{"title":null,"values":[1,2,3,4,5,6]}},"y":{"field":"y","type":"quantitative","scale":{"domain":[0,0.155]},"axis":{"title":null,"values":[0,0.05,0.1,0.15]}}}},
    {"data":{"values":[{"k":"KLD = 0.2"}]},"mark":{"type":"text","align":"left","baseline":"middle","fontSize":15.5},"encoding":{"x":{"datum":1.12},"y":{"datum":0.122},"text":{"field":"k"}}}]},
   {"title":"[P μ σ] = [100\u00a0 4.42\u00a0 0.051]","width":263,"height":90,"resolve":{"scale":{"y":"independent"}},"layer":[
    {"data":{"name":"bars"},"transform":[{"filter":"datum.p=='a6'"}],"mark":"bar","encoding":{"x":{"field":"x","type":"quantitative","bin":{"binned":true,"step":0.1},"scale":{"domain":[1,6]},"axis":{"title":"Frequency (Hz)","values":[1,2,3,4,5,6]}},"y":{"field":"y","type":"quantitative","scale":{"domain":[0,0.155]},"axis":{"title":"Periodicity","orient":"left","values":[0,0.05,0.1,0.15],"titlePadding":7}},"color":{"datum":"760","legend":{"title":null}}}},
    {"data":{"name":"curves"},"transform":[{"filter":"datum.p=='a6'"}],"mark":{"type":"line","color":"#ff0000","strokeWidth":3},"encoding":{"x":{"field":"x","type":"quantitative","axis":{"title":"Frequency (Hz)"}},"y":{"field":"y","type":"quantitative","scale":{"domain":[0,0.155],"clamp":true},"axis":{"title":"Calcarine","orient":"left","labels":false,"grid":false,"titlePadding":65,"titleFontSize":20}}}}]},
   {"title":"[P μ σ] = [100\u00a0 4.37\u00a0 0.052]","width":240,"height":90,"layer":[
    {"data":{"name":"bars"},"transform":[{"filter":"datum.p=='b6'"}],"mark":"bar","encoding":{"x":{"field":"x","type":"quantitative","bin":{"binned":true,"step":0.1},"scale":{"domain":[1,6]},"axis":{"title":"Frequency (Hz)","values":[1,2,3,4,5,6]}},"y":{"field":"y","type":"quantitative","scale":{"domain":[0,0.155]},"axis":{"title":null,"values":[0,0.05,0.1,0.15]}},"color":{"datum":"760","legend":{"title":null}}}},
    {"data":{"name":"curves"},"transform":[{"filter":"datum.p=='b6'"}],"mark":{"type":"line","color":"#0000ff","strokeWidth":1},"encoding":{"x":{"field":"x","type":"quantitative","axis":{"title":"Frequency (Hz)","values":[1,2,3,4,5,6]}},"y":{"field":"y","type":"quantitative","scale":{"domain":[0,0.155]},"axis":{"title":null,"values":[0,0.05,0.1,0.15]}}}},
    {"data":{"values":[{"k":"KLD = 0.18"}]},"mark":{"type":"text","align":"left","baseline":"middle","fontSize":15.5},"encoding":{"x":{"datum":1.12},"y":{"datum":0.122},"text":{"field":"k"}}}]}
 ]}
]},
{"spacing":46,"resolve":{"scale":{"color":"independent"}},"vconcat":[
 {"spacing":-156,"hconcat":[
   {"width":264,"height":46,"title":{"text":"B","anchor":"start","dx":-81,"fontSize":30,"offset":8},"data":{"values":[{"t":"1.8Hz"}]},"mark":{"type":"text","color":"white","fontSize":29,"fontWeight":"bold"},"encoding":{"text":{"field":"t"}},"view":{"fill":"#a7a9a6","stroke":"#c4c6c3"}},
   {"width":249,"height":46,"title":{"text":"Erroneous Response","anchor":"start","dx":-203,"fontSize":30,"offset":8},"data":{"values":[{"t":"2.6Hz"}]},"mark":{"type":"text","color":"white","fontSize":29,"fontWeight":"bold"},"encoding":{"text":{"field":"t"}},"view":{"fill":"#a7a9a6","stroke":"#c4c6c3"}}
 ]},
 {"columns":2,"align":"each","spacing":{"row":9,"column":14},"resolve":{"scale":{"color":"independent"}},"concat":[
   {"title":"[P μ σ] = [75\u00a0 4.2\u00a0 0.205]","width":263,"height":90,"resolve":{"scale":{"y":"independent"}},"layer":[
    {"data":{"name":"bars"},"transform":[{"filter":"datum.p=='c1'"}],"mark":"bar","encoding":{"x":{"field":"x","type":"quantitative","bin":{"binned":true,"step":0.1},"scale":{"domain":[1,6]},"axis":{"title":null,"values":[1,2,3,4,5,6]}},"y":{"field":"y","type":"quantitative","scale":{"domain":[0,0.155]},"axis":{"title":"Periodicity","orient":"left","values":[0,0.05,0.1,0.15],"titlePadding":7}},"color":{"datum":"760","legend":{"title":null}}}},
    {"data":{"name":"curves"},"transform":[{"filter":"datum.p=='c1'"}],"mark":{"type":"line","color":"#0000ff","strokeWidth":1},"encoding":{"x":{"field":"x","type":"quantitative","axis":{"title":null}},"y":{"field":"y","type":"quantitative","scale":{"domain":[0,0.155]},"axis":{"title":"STG","orient":"left","labels":false,"grid":false,"titlePadding":65,"titleFontSize":20}}}}]},
   {"title":"[P μ σ] = [66\u00a0 4.17\u00a0 0.162]","width":240,"height":90,"layer":[
    {"data":{"name":"bars"},"transform":[{"filter":"datum.p=='d1'"}],"mark":"bar","encoding":{"x":{"field":"x","type":"quantitative","bin":{"binned":true,"step":0.1},"scale":{"domain":[1,6]},"axis":{"title":null,"values":[1,2,3,4,5,6]}},"y":{"field":"y","type":"quantitative","scale":{"domain":[0,0.155]},"axis":{"title":null,"values":[0,0.05,0.1,0.15]}},"color":{"datum":"760","legend":{"title":null}}}},
    {"data":{"name":"curves"},"transform":[{"filter":"datum.p=='d1'"}],"mark":{"type":"line","color":"#0000ff","strokeWidth":1},"encoding":{"x":{"field":"x","type":"quantitative","axis":{"title":null,"values":[1,2,3,4,5,6]}},"y":{"field":"y","type":"quantitative","scale":{"domain":[0,0.155]},"axis":{"title":null,"values":[0,0.05,0.1,0.15]}}}}]},
   {"title":"[P μ σ] = [74\u00a0 4.26\u00a0 0.325]","width":263,"height":90,"resolve":{"scale":{"y":"independent"}},"layer":[
    {"data":{"name":"bars"},"transform":[{"filter":"datum.p=='c2'"}],"mark":"bar","encoding":{"x":{"field":"x","type":"quantitative","bin":{"binned":true,"step":0.1},"scale":{"domain":[1,6]},"axis":{"title":null,"values":[1,2,3,4,5,6]}},"y":{"field":"y","type":"quantitative","scale":{"domain":[0,0.155]},"axis":{"title":"Periodicity","orient":"left","values":[0,0.05,0.1,0.15],"titlePadding":7}},"color":{"datum":"1672","legend":{"title":null}}}},
    {"data":{"name":"curves"},"transform":[{"filter":"datum.p=='c2'"}],"mark":{"type":"line","color":"#0000ff","strokeWidth":1},"encoding":{"x":{"field":"x","type":"quantitative","axis":{"title":null}},"y":{"field":"y","type":"quantitative","scale":{"domain":[0,0.155]},"axis":{"title":"MTG","orient":"left","labels":false,"grid":false,"titlePadding":65,"titleFontSize":20}}}}]},
   {"title":"[P μ σ] = [71\u00a0 4.22\u00a0 0.19]","width":240,"height":90,"layer":[
    {"data":{"name":"bars"},"transform":[{"filter":"datum.p=='d2'"}],"mark":"bar","encoding":{"x":{"field":"x","type":"quantitative","bin":{"binned":true,"step":0.1},"scale":{"domain":[1,6]},"axis":{"title":null,"values":[1,2,3,4,5,6]}},"y":{"field":"y","type":"quantitative","scale":{"domain":[0,0.155]},"axis":{"title":null,"values":[0,0.05,0.1,0.15]}},"color":{"datum":"1672","legend":{"title":null}}}},
    {"data":{"name":"curves"},"transform":[{"filter":"datum.p=='d2'"}],"mark":{"type":"line","color":"#0000ff","strokeWidth":1},"encoding":{"x":{"field":"x","type":"quantitative","axis":{"title":null,"values":[1,2,3,4,5,6]}},"y":{"field":"y","type":"quantitative","scale":{"domain":[0,0.155]},"axis":{"title":null,"values":[0,0.05,0.1,0.15]}}}}]},
   {"title":"[P μ σ] = [72\u00a0 4.1\u00a0 0.333]","width":263,"height":90,"resolve":{"scale":{"y":"independent"}},"layer":[
    {"data":{"name":"bars"},"transform":[{"filter":"datum.p=='c3'"}],"mark":"bar","encoding":{"x":{"field":"x","type":"quantitative","bin":{"binned":true,"step":0.1},"scale":{"domain":[1,6]},"axis":{"title":null,"values":[1,2,3,4,5,6]}},"y":{"field":"y","type":"quantitative","scale":{"domain":[0,0.155]},"axis":{"title":"Periodicity","orient":"left","values":[0,0.05,0.1,0.15],"titlePadding":7}},"color":{"datum":"304","legend":{"title":null}}}},
    {"data":{"name":"curves"},"transform":[{"filter":"datum.p=='c3'"}],"mark":{"type":"line","color":"#0000ff","strokeWidth":1},"encoding":{"x":{"field":"x","type":"quantitative","axis":{"title":null}},"y":{"field":"y","type":"quantitative","scale":{"domain":[0,0.155]},"axis":{"title":"SMG","orient":"left","labels":false,"grid":false,"titlePadding":65,"titleFontSize":20}}}}]},
   {"title":"[P μ σ] = [65\u00a0 4.22\u00a0 0.313]","width":240,"height":90,"layer":[
    {"data":{"name":"bars"},"transform":[{"filter":"datum.p=='d3'"}],"mark":"bar","encoding":{"x":{"field":"x","type":"quantitative","bin":{"binned":true,"step":0.1},"scale":{"domain":[1,6]},"axis":{"title":null,"values":[1,2,3,4,5,6]}},"y":{"field":"y","type":"quantitative","scale":{"domain":[0,0.155]},"axis":{"title":null,"values":[0,0.05,0.1,0.15]}},"color":{"datum":"304","legend":{"title":null}}}},
    {"data":{"name":"curves"},"transform":[{"filter":"datum.p=='d3'"}],"mark":{"type":"line","color":"#0000ff","strokeWidth":1},"encoding":{"x":{"field":"x","type":"quantitative","axis":{"title":null,"values":[1,2,3,4,5,6]}},"y":{"field":"y","type":"quantitative","scale":{"domain":[0,0.155]},"axis":{"title":null,"values":[0,0.05,0.1,0.15]}}}}]},
   {"title":"[P μ σ] = [79\u00a0 4.37\u00a0 0.24]","width":263,"height":90,"resolve":{"scale":{"y":"independent"}},"layer":[
    {"data":{"name":"bars"},"transform":[{"filter":"datum.p=='c4'"}],"mark":"bar","encoding":{"x":{"field":"x","type":"quantitative","bin":{"binned":true,"step":0.1},"scale":{"domain":[1,6]},"axis":{"title":null,"values":[1,2,3,4,5,6]}},"y":{"field":"y","type":"quantitative","scale":{"domain":[0,0.155]},"axis":{"title":"Periodicity","orient":"left","values":[0,0.05,0.1,0.15],"titlePadding":7}},"color":{"datum":"1216","legend":{"title":null}}}},
    {"data":{"name":"curves"},"transform":[{"filter":"datum.p=='c4'"}],"mark":{"type":"line","color":"#0000ff","strokeWidth":1},"encoding":{"x":{"field":"x","type":"quantitative","axis":{"title":null}},"y":{"field":"y","type":"quantitative","scale":{"domain":[0,0.155]},"axis":{"title":"PC","orient":"left","labels":false,"grid":false,"titlePadding":65,"titleFontSize":20}}}}]},
   {"title":"[P μ σ] = [65\u00a0 4.32\u00a0 0.158]","width":240,"height":90,"layer":[
    {"data":{"name":"bars"},"transform":[{"filter":"datum.p=='d4'"}],"mark":"bar","encoding":{"x":{"field":"x","type":"quantitative","bin":{"binned":true,"step":0.1},"scale":{"domain":[1,6]},"axis":{"title":null,"values":[1,2,3,4,5,6]}},"y":{"field":"y","type":"quantitative","scale":{"domain":[0,0.155]},"axis":{"title":null,"values":[0,0.05,0.1,0.15]}},"color":{"datum":"1216","legend":{"title":null}}}},
    {"data":{"name":"curves"},"transform":[{"filter":"datum.p=='d4'"}],"mark":{"type":"line","color":"#0000ff","strokeWidth":1},"encoding":{"x":{"field":"x","type":"quantitative","axis":{"title":null,"values":[1,2,3,4,5,6]}},"y":{"field":"y","type":"quantitative","scale":{"domain":[0,0.155]},"axis":{"title":null,"values":[0,0.05,0.1,0.15]}}}}]},
   {"title":"[P μ σ] = [74\u00a0 4.27\u00a0 0.389]","width":263,"height":90,"resolve":{"scale":{"y":"independent"}},"layer":[
    {"data":{"name":"bars"},"transform":[{"filter":"datum.p=='c5'"}],"mark":"bar","encoding":{"x":{"field":"x","type":"quantitative","bin":{"binned":true,"step":0.1},"scale":{"domain":[1,6]},"axis":{"title":null,"values":[1,2,3,4,5,6]}},"y":{"field":"y","type":"quantitative","scale":{"domain":[0,0.155]},"axis":{"title":"Periodicity","orient":"left","values":[0,0.05,0.1,0.15],"titlePadding":7}},"color":{"datum":"798","legend":{"title":null}}}},
    {"data":{"name":"curves"},"transform":[{"filter":"datum.p=='c5'"}],"mark":{"type":"line","color":"#0000ff","strokeWidth":1},"encoding":{"x":{"field":"x","type":"quantitative","axis":{"title":null}},"y":{"field":"y","type":"quantitative","scale":{"domain":[0,0.155]},"axis":{"title":"IFG","orient":"left","labels":false,"grid":false,"titlePadding":65,"titleFontSize":20}}}}]},
   {"title":"[P μ σ] = [62\u00a0 4.26\u00a0 0.32]","width":240,"height":90,"layer":[
    {"data":{"name":"bars"},"transform":[{"filter":"datum.p=='d5'"}],"mark":"bar","encoding":{"x":{"field":"x","type":"quantitative","bin":{"binned":true,"step":0.1},"scale":{"domain":[1,6]},"axis":{"title":null,"values":[1,2,3,4,5,6]}},"y":{"field":"y","type":"quantitative","scale":{"domain":[0,0.155]},"axis":{"title":null,"values":[0,0.05,0.1,0.15]}},"color":{"datum":"798","legend":{"title":null}}}},
    {"data":{"name":"curves"},"transform":[{"filter":"datum.p=='d5'"}],"mark":{"type":"line","color":"#0000ff","strokeWidth":1},"encoding":{"x":{"field":"x","type":"quantitative","axis":{"title":null,"values":[1,2,3,4,5,6]}},"y":{"field":"y","type":"quantitative","scale":{"domain":[0,0.155]},"axis":{"title":null,"values":[0,0.05,0.1,0.15]}}}}]},
   {"title":"[P μ σ] = [74\u00a0 4.32\u00a0 0.224]","width":263,"height":90,"resolve":{"scale":{"y":"independent"}},"layer":[
    {"data":{"name":"bars"},"transform":[{"filter":"datum.p=='c6'"}],"mark":"bar","encoding":{"x":{"field":"x","type":"quantitative","bin":{"binned":true,"step":0.1},"scale":{"domain":[1,6]},"axis":{"title":"Frequency (Hz)","values":[1,2,3,4,5,6]}},"y":{"field":"y","type":"quantitative","scale":{"domain":[0,0.155]},"axis":{"title":"Periodicity","orient":"left","values":[0,0.05,0.1,0.15],"titlePadding":7}},"color":{"datum":"760","legend":{"title":null}}}},
    {"data":{"name":"curves"},"transform":[{"filter":"datum.p=='c6'"}],"mark":{"type":"line","color":"#0000ff","strokeWidth":1},"encoding":{"x":{"field":"x","type":"quantitative","axis":{"title":"Frequency (Hz)"}},"y":{"field":"y","type":"quantitative","scale":{"domain":[0,0.155]},"axis":{"title":"Calcarine","orient":"left","labels":false,"grid":false,"titlePadding":65,"titleFontSize":20}}}}]},
   {"title":"[P μ σ] = [69\u00a0 4.35\u00a0 0.214]","width":240,"height":90,"layer":[
    {"data":{"name":"bars"},"transform":[{"filter":"datum.p=='d6'"}],"mark":"bar","encoding":{"x":{"field":"x","type":"quantitative","bin":{"binned":true,"step":0.1},"scale":{"domain":[1,6]},"axis":{"title":"Frequency (Hz)","values":[1,2,3,4,5,6]}},"y":{"field":"y","type":"quantitative","scale":{"domain":[0,0.155]},"axis":{"title":null,"values":[0,0.05,0.1,0.15]}},"color":{"datum":"760","legend":{"title":null}}}},
    {"data":{"name":"curves"},"transform":[{"filter":"datum.p=='d6'"}],"mark":{"type":"line","color":"#0000ff","strokeWidth":1},"encoding":{"x":{"field":"x","type":"quantitative","axis":{"title":"Frequency (Hz)","values":[1,2,3,4,5,6]}},"y":{"field":"y","type":"quantitative","scale":{"domain":[0,0.155]},"axis":{"title":null,"values":[0,0.05,0.1,0.15]}}}}]}
 ]}
]}
],
"config":{
 "font":"Liberation Sans",
 "numberFormat":"~g",
 "view":{"stroke":"#262626","strokeWidth":0.8},
 "range":{"category":["#62a7d8"]},
 "axis":{"labelFontSize":15,"labelColor":"#1a1a1a","ticks":false,"domain":false,"grid":true,"gridColor":"#e6e6e6","gridWidth":0.8,"titleFontWeight":"normal","titleFontSize":17,"titleColor":"#1a1a1a"},
 "axisX":{"labelPadding":7,"labelFlush":false,"titlePadding":3},
 "axisY":{"labelPadding":4},
 "title":{"fontSize":17.5,"fontWeight":"bold","offset":-4,"frame":"group","color":"#000"},
 "legend":{"orient":"top-right","offset":9,"padding":2,"strokeColor":"#666","fillColor":"white","symbolType":"M-1,-0.84H3V0.84H-1Z","symbolSize":225,"symbolStrokeColor":"#333","symbolStrokeWidth":0.7,"labelFontSize":13,"labelColor":"#000","labelOffset":17,"cornerRadius":0},
 "bar":{"stroke":"#2a3a48","strokeWidth":0.5},
 "line":{"interpolate":"monotone","clip":true},
 "text":{"color":"#000"}
}
}
